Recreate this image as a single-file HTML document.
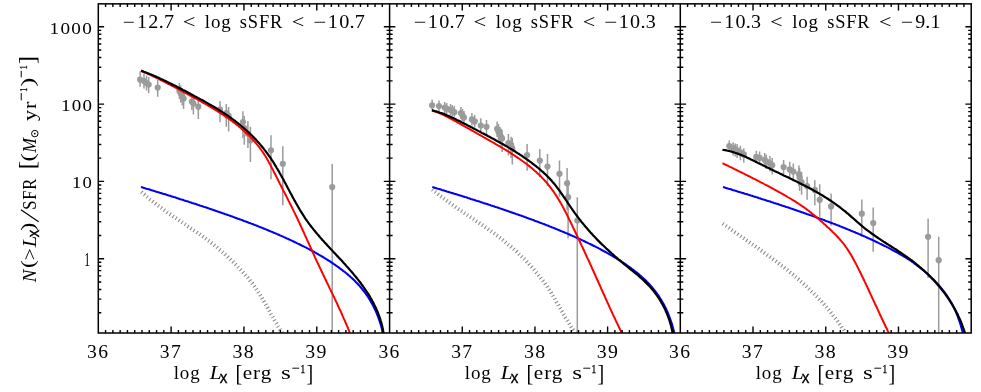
<!DOCTYPE html>
<html><head><meta charset="utf-8"><title>XLF</title>
<style>html,body{margin:0;padding:0;background:#fff}body{width:981px;height:392px;overflow:hidden;font-family:"Liberation Serif",serif}</style>
</head><body>
<svg width="981" height="392" viewBox="0 0 981 392" style="display:block;will-change:transform">
<rect width="981" height="392" fill="#fff"/>
<defs>
<clipPath id="c0"><rect x="98.3" y="3.85" width="291.3" height="329.15"/></clipPath>
<clipPath id="c1"><rect x="389.6" y="3.85" width="290.69999999999993" height="329.15"/></clipPath>
<clipPath id="c2"><rect x="680.3" y="3.85" width="290.9000000000001" height="329.15"/></clipPath>
</defs>
<g clip-path="url(#c0)">
<g stroke="#9b9b9b" stroke-width="1.5"><line x1="140.1" y1="71.5" x2="140.1" y2="86.8"/><line x1="144" y1="73.5" x2="144" y2="88.5"/><line x1="146.5" y1="75.5" x2="146.5" y2="90.5"/><line x1="148.7" y1="77" x2="148.7" y2="92.9"/><line x1="157.7" y1="79.9" x2="157.7" y2="96.8"/><line x1="179.4" y1="83" x2="179.4" y2="99"/><line x1="180.8" y1="85.5" x2="180.8" y2="102.5"/><line x1="182.2" y1="88" x2="182.2" y2="105.5"/><line x1="183.6" y1="90.5" x2="183.6" y2="109"/><line x1="191.9" y1="94" x2="191.9" y2="110"/><line x1="193.4" y1="96" x2="193.4" y2="114.4"/><line x1="198.3" y1="99" x2="198.3" y2="119"/><line x1="220" y1="100.9" x2="220" y2="122.3"/><line x1="226.3" y1="103.9" x2="226.3" y2="126.7"/><line x1="228.6" y1="107.1" x2="228.6" y2="131.5"/><line x1="242.9" y1="111.2" x2="242.9" y2="138"/><line x1="244.3" y1="116" x2="244.3" y2="144.7"/><line x1="247.9" y1="121" x2="247.9" y2="148"/><line x1="250.4" y1="126.8" x2="250.4" y2="162"/><line x1="271" y1="135.3" x2="271" y2="179.2"/><line x1="282.8" y1="146.2" x2="282.8" y2="205.2"/><line x1="332.2" y1="163.9" x2="332.2" y2="333"/></g>
<g fill="#9b9b9b"><circle cx="140.1" cy="79.6" r="3.1"/><circle cx="144" cy="81" r="3.1"/><circle cx="146.5" cy="83" r="3.1"/><circle cx="148.7" cy="84.5" r="3.1"/><circle cx="157.7" cy="87.6" r="3.1"/><circle cx="179.4" cy="91" r="3.1"/><circle cx="180.8" cy="93.5" r="3.1"/><circle cx="182.2" cy="96" r="3.1"/><circle cx="183.6" cy="98.6" r="3.1"/><circle cx="191.9" cy="101.7" r="3.1"/><circle cx="193.4" cy="103.6" r="3.1"/><circle cx="198.3" cy="106.7" r="3.1"/><circle cx="220" cy="109.7" r="3.1"/><circle cx="226.3" cy="113" r="3.1"/><circle cx="228.6" cy="115.5" r="3.1"/><circle cx="242.9" cy="122" r="3.1"/><circle cx="244.3" cy="128.2" r="3.1"/><circle cx="247.9" cy="133.8" r="3.1"/><circle cx="250.4" cy="140.3" r="3.1"/><circle cx="271" cy="150.3" r="3.1"/><circle cx="282.8" cy="163.8" r="3.1"/><circle cx="332.2" cy="187.1" r="3.1"/></g>
<path d="M141.3,192.1 L142.0,192.6 L142.6,193.2 L143.3,193.7 L143.9,194.3 L144.6,194.8 L145.2,195.4 L145.9,195.9 L146.5,196.4 L147.2,197.0 L147.8,197.5 L148.5,198.0 L149.2,198.6 L149.8,199.1 L150.5,199.6 L151.1,200.2 L151.8,200.7 L152.5,201.2 L153.1,201.7 L153.8,202.2 L154.5,202.8 L155.2,203.3 L155.8,203.8 L156.5,204.3 L157.2,204.8 L157.9,205.3 L158.5,205.8 L159.2,206.3 L159.9,206.8 L160.6,207.3 L161.3,207.8 L161.9,208.3 L162.6,208.8 L163.3,209.3 L164.0,209.8 L164.7,210.3 L165.4,210.8 L166.1,211.3 L166.8,211.8 L167.4,212.3 L168.1,212.7 L168.8,213.2 L169.5,213.7 L170.2,214.2 L170.9,214.7 L171.6,215.2 L172.3,215.6 L173.0,216.1 L173.7,216.6 L174.4,217.1 L175.1,217.6 L175.8,218.0 L176.5,218.5 L177.2,219.0 L177.9,219.5 L178.6,219.9 L179.3,220.4 L180.0,220.9 L180.7,221.4 L181.4,221.8 L182.1,222.3 L182.8,222.8 L183.5,223.3 L184.2,223.7 L184.9,224.2 L185.6,224.7 L186.3,225.2 L187.0,225.6 L187.7,226.1 L188.4,226.6 L189.1,227.0 L189.8,227.5 L190.5,228.0 L191.2,228.5 L192.0,228.9 L192.7,229.4 L193.4,229.9 L194.1,230.4 L194.8,230.8 L195.5,231.3 L196.2,231.8 L196.9,232.3 L197.6,232.8 L198.3,233.2 L199.0,233.7 L199.6,234.2 L200.3,234.7 L201.0,235.2 L201.7,235.7 L202.4,236.2 L203.1,236.7 L203.8,237.2 L204.5,237.7 L205.1,238.2 L205.8,238.7 L206.5,239.2 L207.2,239.7 L207.8,240.2 L208.5,240.7 L209.2,241.2 L209.8,241.7 L210.5,242.2 L211.2,242.7 L211.8,243.3 L212.5,243.8 L213.2,244.3 L213.8,244.8 L214.5,245.4 L215.1,245.9 L215.8,246.4 L216.4,247.0 L217.1,247.5 L217.7,248.1 L218.4,248.6 L219.0,249.1 L219.7,249.7 L220.3,250.2 L220.9,250.8 L221.6,251.3 L222.2,251.9 L222.9,252.5 L223.5,253.0 L224.1,253.6 L224.8,254.1 L225.4,254.7 L226.0,255.3 L226.6,255.9 L227.3,256.4 L227.9,257.0 L228.5,257.6 L229.1,258.2 L229.8,258.7 L230.4,259.3 L231.0,259.9 L231.6,260.5 L232.2,261.1 L232.8,261.7 L233.5,262.3 L234.1,262.9 L234.7,263.5 L235.3,264.1 L235.9,264.7 L236.5,265.3 L237.1,265.9 L237.7,266.5 L238.2,267.1 L238.8,267.7 L239.4,268.3 L240.0,269.0 L240.6,269.6 L241.2,270.2 L241.7,270.8 L242.3,271.4 L242.9,272.1 L243.4,272.7 L244.0,273.3 L244.6,274.0 L245.1,274.6 L245.7,275.3 L246.2,275.9 L246.8,276.5 L247.3,277.2 L247.9,277.8 L248.4,278.5 L248.9,279.2 L249.5,279.8 L250.0,280.5 L250.5,281.1 L251.0,281.8 L251.5,282.5 L252.1,283.1 L252.6,283.8 L253.1,284.5 L253.6,285.2 L254.1,285.8 L254.6,286.5 L255.0,287.2 L255.5,287.9 L256.0,288.6 L256.5,289.3 L257.0,290.0 L257.4,290.7 L257.9,291.4 L258.3,292.1 L258.8,292.8 L259.2,293.5 L259.7,294.2 L260.1,295.0 L260.6,295.7 L261.0,296.4 L261.5,297.1 L261.9,297.8 L262.3,298.6 L262.7,299.3 L263.2,300.0 L263.6,300.8 L264.0,301.5 L264.4,302.2 L264.8,303.0 L265.3,303.7 L265.7,304.4 L266.1,305.2 L266.5,305.9 L266.9,306.7 L267.3,307.4 L267.7,308.1 L268.1,308.9 L268.5,309.6 L269.0,310.4 L269.4,311.1 L269.8,311.8 L270.2,312.6 L270.6,313.3 L271.0,314.1 L271.4,314.8 L271.8,315.6 L272.2,316.3 L272.7,317.0 L273.1,317.8 L273.5,318.5 L273.9,319.2 L274.3,320.0 L274.7,320.7 L275.2,321.5 L275.6,322.2 L276.0,322.9 L276.5,323.6 L276.9,324.4 L277.3,325.1 L277.8,325.8 L278.2,326.6 L278.7,327.3 L279.1,328.0 L279.6,328.7 L280.0,329.4 L280.5,330.1 L281.0,330.9 L281.4,331.6 L281.9,332.3 L282.4,333.0" fill="none" stroke="#8a8a8a" stroke-width="3.9" stroke-dasharray="1.05 2.55"/>
<path d="M141.0,187.0 L142.0,187.3 L142.9,187.6 L143.9,187.9 L144.9,188.2 L145.8,188.5 L146.8,188.8 L147.7,189.0 L148.7,189.3 L149.7,189.6 L150.6,189.9 L151.6,190.2 L152.6,190.5 L153.5,190.8 L154.5,191.1 L155.4,191.4 L156.4,191.7 L157.4,192.0 L158.3,192.3 L159.3,192.6 L160.3,192.9 L161.2,193.1 L162.2,193.4 L163.1,193.7 L164.1,194.0 L165.1,194.3 L166.0,194.6 L167.0,194.9 L168.0,195.2 L168.9,195.5 L169.9,195.8 L170.8,196.1 L171.8,196.4 L172.8,196.7 L173.7,197.0 L174.7,197.3 L175.7,197.6 L176.6,197.9 L177.6,198.2 L178.5,198.5 L179.5,198.9 L180.5,199.2 L181.4,199.5 L182.4,199.8 L183.4,200.1 L184.3,200.4 L185.3,200.7 L186.2,201.0 L187.2,201.3 L188.2,201.6 L189.1,201.9 L190.1,202.2 L191.1,202.6 L192.0,202.9 L193.0,203.2 L193.9,203.5 L194.9,203.8 L195.9,204.1 L196.8,204.4 L197.8,204.8 L198.8,205.1 L199.7,205.4 L200.7,205.7 L201.6,206.0 L202.6,206.3 L203.6,206.7 L204.5,207.0 L205.5,207.3 L206.5,207.6 L207.4,207.9 L208.4,208.3 L209.3,208.6 L210.3,208.9 L211.3,209.2 L212.2,209.6 L213.2,209.9 L214.2,210.2 L215.1,210.6 L216.1,210.9 L217.0,211.2 L218.0,211.6 L219.0,211.9 L219.9,212.2 L220.9,212.6 L221.9,212.9 L222.8,213.2 L223.8,213.6 L224.7,213.9 L225.7,214.2 L226.7,214.6 L227.6,214.9 L228.6,215.3 L229.6,215.6 L230.5,215.9 L231.5,216.3 L232.4,216.6 L233.4,217.0 L234.4,217.3 L235.3,217.7 L236.3,218.0 L237.3,218.4 L238.2,218.7 L239.2,219.1 L240.1,219.4 L241.1,219.8 L242.1,220.1 L243.0,220.5 L244.0,220.9 L245.0,221.2 L245.9,221.6 L246.9,221.9 L247.8,222.3 L248.8,222.7 L249.8,223.0 L250.7,223.4 L251.7,223.8 L252.7,224.1 L253.6,224.5 L254.6,224.9 L255.5,225.3 L256.5,225.6 L257.5,226.0 L258.4,226.4 L259.4,226.8 L260.4,227.2 L261.3,227.5 L262.3,227.9 L263.2,228.3 L264.2,228.7 L265.2,229.1 L266.1,229.5 L267.1,229.9 L268.1,230.3 L269.0,230.7 L270.0,231.1 L270.9,231.5 L271.9,231.9 L272.9,232.3 L273.8,232.7 L274.8,233.1 L275.8,233.5 L276.7,233.9 L277.7,234.3 L278.6,234.7 L279.6,235.2 L280.6,235.6 L281.5,236.0 L282.5,236.4 L283.5,236.9 L284.4,237.3 L285.4,237.7 L286.3,238.2 L287.3,238.6 L288.3,239.0 L289.2,239.5 L290.2,239.9 L291.2,240.4 L292.1,240.8 L293.1,241.3 L294.0,241.7 L295.0,242.2 L296.0,242.6 L296.9,243.1 L297.9,243.6 L298.9,244.0 L299.8,244.5 L300.8,245.0 L301.7,245.5 L302.7,246.0 L303.7,246.4 L304.6,246.9 L305.6,247.4 L306.6,247.9 L307.5,248.4 L308.5,248.9 L309.4,249.4 L310.4,250.0 L311.4,250.5 L312.3,251.0 L313.3,251.5 L314.3,252.0 L315.2,252.6 L316.2,253.1 L317.1,253.7 L318.1,254.2 L319.1,254.8 L320.0,255.3 L321.0,255.9 L322.0,256.5 L322.9,257.0 L323.9,257.6 L324.8,258.2 L325.8,258.8 L326.8,259.4 L327.7,260.0 L328.7,260.6 L329.7,261.2 L330.6,261.9 L331.6,262.5 L332.5,263.1 L333.5,263.8 L334.5,264.4 L335.4,265.1 L336.4,265.8 L337.4,266.5 L338.3,267.2 L339.3,267.9 L340.2,268.6 L341.2,269.3 L342.2,270.0 L343.1,270.8 L344.1,271.5 L345.1,272.3 L346.0,273.0 L347.0,273.8 L347.9,274.6 L348.9,275.5 L349.9,276.3 L350.8,277.2 L351.8,278.0 L352.8,278.9 L353.7,279.8 L354.7,280.8 L355.6,281.8 L356.6,282.7 L357.6,283.8 L358.5,284.8 L359.5,285.9 L360.5,287.0 L361.4,288.1 L362.4,289.3 L363.3,290.5 L364.3,291.7 L365.3,293.0 L366.2,294.4 L367.2,295.7 L368.2,297.2 L369.1,298.7 L370.1,300.3 L371.0,301.9 L372.0,303.6 L373.0,305.4 L373.9,307.3 L374.9,309.3 L375.9,311.4 L376.8,313.6 L377.8,316.0 L378.7,318.6 L379.7,321.4 L380.7,324.4 L381.6,327.7 L382.6,331.3 L383.6,335.4" fill="none" stroke="#0000fa" stroke-width="2.1"/>
<path d="M141.0,70.9 L142.3,71.5 L143.6,72.0 L145.0,72.6 L146.3,73.2 L147.6,73.7 L148.9,74.3 L150.3,74.9 L151.6,75.5 L152.9,76.1 L154.2,76.8 L155.5,77.4 L156.8,78.0 L158.1,78.7 L159.5,79.3 L160.8,80.0 L162.1,80.6 L163.4,81.3 L164.7,81.9 L166.0,82.6 L167.3,83.3 L168.6,84.0 L169.9,84.6 L171.2,85.3 L172.5,86.0 L173.8,86.7 L175.1,87.4 L176.4,88.1 L177.7,88.8 L179.0,89.5 L180.3,90.2 L181.6,90.9 L182.9,91.6 L184.2,92.3 L185.5,93.0 L186.7,93.7 L188.0,94.4 L189.3,95.1 L190.6,95.8 L191.9,96.4 L193.1,97.1 L194.4,97.8 L195.7,98.5 L197.0,99.2 L198.2,99.9 L199.5,100.7 L200.8,101.4 L202.0,102.1 L203.3,102.8 L204.5,103.5 L205.8,104.2 L207.0,104.9 L208.3,105.7 L209.5,106.4 L210.8,107.1 L212.0,107.9 L213.3,108.6 L214.5,109.4 L215.8,110.2 L217.0,110.9 L218.2,111.7 L219.5,112.5 L220.7,113.3 L221.9,114.1 L223.2,114.9 L224.4,115.7 L225.6,116.6 L226.8,117.4 L228.0,118.2 L229.2,119.1 L230.4,119.9 L231.6,120.8 L232.8,121.7 L233.9,122.6 L235.1,123.5 L236.3,124.4 L237.4,125.3 L238.6,126.2 L239.7,127.2 L240.8,128.1 L241.9,129.1 L243.0,130.0 L244.1,131.0 L245.2,132.0 L246.3,133.0 L247.3,134.0 L248.4,135.0 L249.4,136.0 L250.5,137.1 L251.5,138.1 L252.5,139.2 L253.4,140.3 L254.4,141.4 L255.4,142.5 L256.3,143.6 L257.2,144.7 L258.2,145.8 L259.0,147.0 L259.9,148.1 L260.8,149.3 L261.6,150.5 L262.5,151.7 L263.3,152.9 L264.1,154.1 L264.8,155.3 L265.6,156.5 L266.3,157.8 L267.1,159.0 L267.8,160.3 L268.5,161.6 L269.2,162.9 L269.9,164.1 L270.6,165.4 L271.3,166.7 L271.9,168.0 L272.6,169.3 L273.3,170.6 L273.9,171.9 L274.6,173.2 L275.3,174.5 L275.9,175.8 L276.6,177.1 L277.2,178.4 L277.9,179.7 L278.5,181.0 L279.2,182.3 L279.8,183.6 L280.5,184.9 L281.2,186.2 L281.8,187.5 L282.5,188.8 L283.1,190.1 L283.8,191.4 L284.5,192.7 L285.2,194.0 L285.8,195.3 L286.5,196.6 L287.2,197.9 L287.8,199.2 L288.5,200.6 L289.2,201.9 L289.8,203.2 L290.5,204.5 L291.1,205.8 L291.8,207.1 L292.4,208.4 L293.1,209.7 L293.7,211.1 L294.4,212.4 L295.0,213.7 L295.6,215.0 L296.3,216.3 L296.9,217.6 L297.5,218.9 L298.1,220.3 L298.8,221.6 L299.4,222.9 L300.0,224.2 L300.6,225.5 L301.2,226.8 L301.8,228.2 L302.4,229.5 L303.0,230.8 L303.6,232.1 L304.2,233.4 L304.8,234.8 L305.4,236.1 L306.0,237.4 L306.6,238.7 L307.2,240.1 L307.8,241.4 L308.4,242.7 L309.0,244.0 L309.6,245.3 L310.2,246.7 L310.8,248.0 L311.4,249.3 L312.0,250.6 L312.6,252.0 L313.2,253.3 L313.8,254.6 L314.4,255.9 L315.0,257.3 L315.6,258.6 L316.2,259.9 L316.8,261.2 L317.5,262.6 L318.1,263.9 L318.7,265.2 L319.3,266.5 L320.0,267.9 L320.6,269.2 L321.2,270.5 L321.8,271.8 L322.5,273.2 L323.1,274.5 L323.8,275.8 L324.4,277.1 L325.0,278.5 L325.7,279.8 L326.3,281.1 L326.9,282.5 L327.6,283.8 L328.2,285.1 L328.9,286.4 L329.5,287.8 L330.1,289.1 L330.8,290.4 L331.4,291.7 L332.1,293.1 L332.7,294.4 L333.3,295.7 L334.0,297.0 L334.6,298.4 L335.2,299.7 L335.8,301.0 L336.5,302.4 L337.1,303.7 L337.7,305.0 L338.3,306.3 L338.9,307.7 L339.5,309.0 L340.2,310.3 L340.8,311.6 L341.4,313.0 L342.0,314.3 L342.5,315.6 L343.1,316.9 L343.7,318.3 L344.3,319.6 L344.9,320.9 L345.4,322.2 L346.0,323.5 L346.6,324.9 L347.1,326.2 L347.7,327.5 L348.2,328.8 L348.8,330.2 L349.3,331.5 L349.8,332.8" fill="none" stroke="#ff0000" stroke-width="2.0"/>
<path d="M141.0,70.6 L142.4,71.1 L143.9,71.7 L145.3,72.2 L146.7,72.8 L148.2,73.4 L149.6,73.9 L151.0,74.5 L152.4,75.1 L153.9,75.7 L155.3,76.3 L156.7,77.0 L158.1,77.6 L159.5,78.2 L160.9,78.9 L162.3,79.5 L163.7,80.2 L165.0,80.8 L166.4,81.5 L167.8,82.2 L169.2,82.9 L170.6,83.5 L172.0,84.2 L173.3,84.9 L174.7,85.6 L176.1,86.3 L177.4,87.0 L178.8,87.7 L180.2,88.4 L181.6,89.2 L182.9,89.9 L184.3,90.6 L185.7,91.3 L187.0,92.0 L188.4,92.8 L189.8,93.5 L191.1,94.2 L192.5,94.9 L193.9,95.7 L195.2,96.4 L196.6,97.1 L198.0,97.9 L199.3,98.6 L200.7,99.4 L202.1,100.1 L203.4,100.8 L204.8,101.6 L206.1,102.4 L207.5,103.1 L208.8,103.9 L210.1,104.7 L211.5,105.5 L212.8,106.2 L214.2,107.0 L215.5,107.8 L216.8,108.6 L218.1,109.4 L219.4,110.3 L220.7,111.1 L222.0,111.9 L223.3,112.8 L224.6,113.6 L225.9,114.5 L227.2,115.3 L228.5,116.2 L229.7,117.1 L231.0,118.0 L232.2,118.9 L233.5,119.8 L234.7,120.7 L235.9,121.7 L237.1,122.6 L238.4,123.6 L239.6,124.5 L240.7,125.5 L241.9,126.5 L243.1,127.5 L244.3,128.5 L245.4,129.5 L246.6,130.5 L247.7,131.6 L248.8,132.6 L250.0,133.7 L251.1,134.8 L252.2,135.8 L253.2,136.9 L254.3,138.0 L255.4,139.1 L256.4,140.3 L257.5,141.4 L258.5,142.5 L259.5,143.7 L260.5,144.9 L261.5,146.0 L262.5,147.2 L263.5,148.4 L264.4,149.6 L265.4,150.8 L266.3,152.1 L267.2,153.3 L268.1,154.5 L269.0,155.8 L269.9,157.0 L270.8,158.3 L271.6,159.6 L272.5,160.9 L273.3,162.2 L274.1,163.5 L274.9,164.8 L275.7,166.1 L276.5,167.5 L277.3,168.8 L278.1,170.1 L278.9,171.5 L279.6,172.8 L280.4,174.2 L281.1,175.5 L281.9,176.9 L282.6,178.2 L283.4,179.6 L284.1,181.0 L284.8,182.3 L285.6,183.7 L286.3,185.1 L287.0,186.4 L287.7,187.8 L288.5,189.2 L289.2,190.5 L289.9,191.9 L290.6,193.3 L291.4,194.6 L292.1,196.0 L292.8,197.4 L293.6,198.7 L294.3,200.1 L295.1,201.4 L295.8,202.8 L296.6,204.1 L297.4,205.5 L298.1,206.8 L298.9,208.1 L299.7,209.5 L300.5,210.8 L301.3,212.1 L302.1,213.4 L302.9,214.7 L303.7,216.0 L304.6,217.3 L305.4,218.6 L306.3,219.8 L307.2,221.1 L308.1,222.3 L309.0,223.6 L309.9,224.8 L310.8,226.0 L311.7,227.2 L312.7,228.4 L313.6,229.6 L314.6,230.8 L315.6,232.0 L316.6,233.2 L317.6,234.4 L318.6,235.5 L319.6,236.7 L320.6,237.9 L321.6,239.0 L322.6,240.2 L323.7,241.3 L324.7,242.5 L325.8,243.6 L326.8,244.7 L327.9,245.9 L328.9,247.0 L330.0,248.2 L331.0,249.3 L332.1,250.4 L333.1,251.6 L334.2,252.7 L335.3,253.8 L336.3,255.0 L337.4,256.1 L338.5,257.2 L339.5,258.4 L340.6,259.5 L341.6,260.6 L342.7,261.8 L343.7,262.9 L344.8,264.1 L345.8,265.2 L346.8,266.4 L347.9,267.6 L348.9,268.7 L349.9,269.9 L350.9,271.1 L352.0,272.2 L353.0,273.4 L353.9,274.6 L354.9,275.8 L355.9,277.0 L356.9,278.2 L357.8,279.4 L358.8,280.6 L359.7,281.8 L360.7,283.0 L361.6,284.3 L362.5,285.5 L363.4,286.8 L364.3,288.0 L365.1,289.3 L366.0,290.5 L366.8,291.8 L367.7,293.1 L368.5,294.4 L369.3,295.7 L370.1,297.0 L370.8,298.3 L371.6,299.6 L372.3,301.0 L373.1,302.3 L373.8,303.7 L374.4,305.0 L375.1,306.4 L375.8,307.8 L376.4,309.2 L377.0,310.6 L377.6,312.0 L378.2,313.4 L378.7,314.9 L379.3,316.3 L379.8,317.8 L380.3,319.3 L380.7,320.8 L381.2,322.3 L381.6,323.8 L382.0,325.3 L382.3,326.9 L382.7,328.4 L383.0,330.0 L383.3,331.6 L383.6,333.2" fill="none" stroke="#000" stroke-width="2.2"/>
</g>
<g clip-path="url(#c1)">
<g stroke="#9b9b9b" stroke-width="1.5"><line x1="432.1" y1="99.5" x2="432.1" y2="109.9"/><line x1="439" y1="100.4" x2="439" y2="111.4"/><line x1="444.7" y1="102" x2="444.7" y2="113"/><line x1="446.7" y1="103" x2="446.7" y2="114.2"/><line x1="450.5" y1="104" x2="450.5" y2="115.5"/><line x1="452.3" y1="105" x2="452.3" y2="116.5"/><line x1="454.3" y1="106" x2="454.3" y2="116.8"/><line x1="460.9" y1="107" x2="460.9" y2="119"/><line x1="462.4" y1="109" x2="462.4" y2="121"/><line x1="464" y1="111" x2="464" y2="122.2"/><line x1="471.9" y1="113" x2="471.9" y2="125.5"/><line x1="474.7" y1="115" x2="474.7" y2="127.5"/><line x1="480.8" y1="118.3" x2="480.8" y2="131.3"/><line x1="486.5" y1="119.9" x2="486.5" y2="134.4"/><line x1="497.1" y1="121.6" x2="497.1" y2="137"/><line x1="498.5" y1="124" x2="498.5" y2="140"/><line x1="500" y1="127" x2="500" y2="144"/><line x1="501.2" y1="129" x2="501.2" y2="148"/><line x1="502.1" y1="130" x2="502.1" y2="152"/><line x1="508.4" y1="134.1" x2="508.4" y2="155.5"/><line x1="511.1" y1="136.8" x2="511.1" y2="158"/><line x1="512.3" y1="138" x2="512.3" y2="164.5"/><line x1="527.1" y1="143.9" x2="527.1" y2="170.7"/><line x1="539.8" y1="148.9" x2="539.8" y2="177"/><line x1="547.5" y1="154" x2="547.5" y2="185.9"/><line x1="559.5" y1="160.4" x2="559.5" y2="196.8"/><line x1="567.1" y1="168" x2="567.1" y2="210"/><line x1="568.1" y1="180" x2="568.1" y2="238.3"/><line x1="577.3" y1="197.2" x2="577.3" y2="333"/></g>
<g fill="#9b9b9b"><circle cx="432.1" cy="105.3" r="3.1"/><circle cx="439" cy="106.1" r="3.1"/><circle cx="444.7" cy="107.6" r="3.1"/><circle cx="446.7" cy="108.7" r="3.1"/><circle cx="450.5" cy="109.9" r="3.1"/><circle cx="452.3" cy="111.1" r="3.1"/><circle cx="454.3" cy="112.2" r="3.1"/><circle cx="460.9" cy="113" r="3.1"/><circle cx="462.4" cy="115.3" r="3.1"/><circle cx="464" cy="117.6" r="3.1"/><circle cx="471.9" cy="119.4" r="3.1"/><circle cx="474.7" cy="121.4" r="3.1"/><circle cx="480.8" cy="125.5" r="3.1"/><circle cx="486.5" cy="126.8" r="3.1"/><circle cx="497.1" cy="128.8" r="3.1"/><circle cx="498.5" cy="131.5" r="3.1"/><circle cx="500" cy="134.5" r="3.1"/><circle cx="501.2" cy="137" r="3.1"/><circle cx="502.1" cy="138.6" r="3.1"/><circle cx="508.4" cy="143" r="3.1"/><circle cx="511.1" cy="144.8" r="3.1"/><circle cx="512.3" cy="148.4" r="3.1"/><circle cx="527.1" cy="155" r="3.1"/><circle cx="539.8" cy="160.5" r="3.1"/><circle cx="547.5" cy="166.5" r="3.1"/><circle cx="559.5" cy="173.8" r="3.1"/><circle cx="567.1" cy="183.3" r="3.1"/><circle cx="568.1" cy="197.2" r="3.1"/><circle cx="577.3" cy="220.6" r="3.1"/></g>
<path d="M432.3,189.4 L433.0,190.0 L433.6,190.5 L434.3,191.1 L435.0,191.6 L435.7,192.2 L436.3,192.7 L437.0,193.3 L437.7,193.8 L438.4,194.4 L439.0,194.9 L439.7,195.4 L440.4,196.0 L441.1,196.5 L441.8,197.0 L442.5,197.5 L443.1,198.1 L443.8,198.6 L444.5,199.1 L445.2,199.6 L445.9,200.1 L446.6,200.6 L447.3,201.1 L448.0,201.6 L448.7,202.1 L449.4,202.6 L450.1,203.2 L450.8,203.7 L451.5,204.1 L452.2,204.6 L452.9,205.1 L453.6,205.6 L454.3,206.1 L455.0,206.6 L455.7,207.1 L456.4,207.6 L457.1,208.1 L457.8,208.6 L458.5,209.1 L459.3,209.5 L460.0,210.0 L460.7,210.5 L461.4,211.0 L462.1,211.5 L462.8,212.0 L463.5,212.4 L464.2,212.9 L464.9,213.4 L465.7,213.9 L466.4,214.4 L467.1,214.8 L467.8,215.3 L468.5,215.8 L469.2,216.3 L469.9,216.8 L470.6,217.2 L471.4,217.7 L472.1,218.2 L472.8,218.7 L473.5,219.1 L474.2,219.6 L474.9,220.1 L475.6,220.6 L476.3,221.1 L477.1,221.5 L477.8,222.0 L478.5,222.5 L479.2,223.0 L479.9,223.5 L480.6,223.9 L481.3,224.4 L482.0,224.9 L482.7,225.4 L483.4,225.9 L484.2,226.4 L484.9,226.9 L485.6,227.4 L486.3,227.8 L487.0,228.3 L487.7,228.8 L488.4,229.3 L489.1,229.8 L489.8,230.3 L490.5,230.8 L491.2,231.3 L491.9,231.8 L492.6,232.3 L493.3,232.8 L494.0,233.3 L494.7,233.8 L495.4,234.4 L496.0,234.9 L496.7,235.4 L497.4,235.9 L498.1,236.4 L498.8,236.9 L499.5,237.5 L500.2,238.0 L500.8,238.5 L501.5,239.1 L502.2,239.6 L502.9,240.1 L503.6,240.7 L504.2,241.2 L504.9,241.7 L505.6,242.3 L506.2,242.8 L506.9,243.4 L507.6,243.9 L508.2,244.5 L508.9,245.0 L509.6,245.6 L510.2,246.1 L510.9,246.7 L511.5,247.3 L512.2,247.8 L512.8,248.4 L513.5,249.0 L514.1,249.5 L514.8,250.1 L515.4,250.7 L516.1,251.3 L516.7,251.8 L517.3,252.4 L518.0,253.0 L518.6,253.6 L519.2,254.2 L519.9,254.8 L520.5,255.4 L521.1,256.0 L521.7,256.6 L522.3,257.2 L522.9,257.8 L523.6,258.4 L524.2,259.0 L524.8,259.6 L525.4,260.2 L526.0,260.8 L526.6,261.5 L527.2,262.1 L527.8,262.7 L528.4,263.3 L528.9,264.0 L529.5,264.6 L530.1,265.2 L530.7,265.9 L531.3,266.5 L531.8,267.1 L532.4,267.8 L533.0,268.4 L533.6,269.1 L534.1,269.7 L534.7,270.4 L535.2,271.0 L535.8,271.7 L536.3,272.4 L536.9,273.0 L537.4,273.7 L538.0,274.3 L538.5,275.0 L539.1,275.7 L539.6,276.4 L540.1,277.0 L540.6,277.7 L541.2,278.4 L541.7,279.1 L542.2,279.8 L542.7,280.5 L543.2,281.1 L543.7,281.8 L544.2,282.5 L544.7,283.2 L545.2,283.9 L545.7,284.6 L546.2,285.3 L546.7,286.0 L547.2,286.7 L547.7,287.5 L548.1,288.2 L548.6,288.9 L549.1,289.6 L549.5,290.3 L550.0,291.1 L550.5,291.8 L550.9,292.5 L551.4,293.2 L551.8,294.0 L552.3,294.7 L552.7,295.4 L553.2,296.2 L553.6,296.9 L554.0,297.6 L554.5,298.4 L554.9,299.1 L555.3,299.9 L555.8,300.6 L556.2,301.3 L556.6,302.1 L557.1,302.8 L557.5,303.6 L557.9,304.3 L558.4,305.1 L558.8,305.8 L559.2,306.6 L559.6,307.3 L560.1,308.1 L560.5,308.8 L560.9,309.6 L561.3,310.3 L561.8,311.1 L562.2,311.8 L562.6,312.5 L563.0,313.3 L563.5,314.0 L563.9,314.8 L564.3,315.5 L564.8,316.3 L565.2,317.0 L565.6,317.8 L566.1,318.5 L566.5,319.3 L567.0,320.0 L567.4,320.7 L567.8,321.5 L568.3,322.2 L568.7,322.9 L569.2,323.7 L569.6,324.4 L570.1,325.1 L570.6,325.9 L571.0,326.6 L571.5,327.3 L572.0,328.0 L572.4,328.8 L572.9,329.5 L573.4,330.2 L573.9,330.9 L574.4,331.6 L574.9,332.3 L575.4,333.1" fill="none" stroke="#8a8a8a" stroke-width="3.9" stroke-dasharray="1.05 2.55"/>
<path d="M432.3,187.0 L433.3,187.3 L434.2,187.6 L435.2,187.9 L436.2,188.2 L437.1,188.5 L438.1,188.8 L439.0,189.0 L440.0,189.3 L441.0,189.6 L441.9,189.9 L442.9,190.2 L443.9,190.5 L444.8,190.8 L445.8,191.1 L446.7,191.4 L447.7,191.7 L448.7,192.0 L449.6,192.3 L450.6,192.6 L451.6,192.9 L452.5,193.1 L453.5,193.4 L454.4,193.7 L455.4,194.0 L456.4,194.3 L457.3,194.6 L458.3,194.9 L459.3,195.2 L460.2,195.5 L461.2,195.8 L462.1,196.1 L463.1,196.4 L464.1,196.7 L465.0,197.0 L466.0,197.3 L467.0,197.6 L467.9,197.9 L468.9,198.2 L469.8,198.5 L470.8,198.9 L471.8,199.2 L472.7,199.5 L473.7,199.8 L474.7,200.1 L475.6,200.4 L476.6,200.7 L477.5,201.0 L478.5,201.3 L479.5,201.6 L480.4,201.9 L481.4,202.2 L482.4,202.6 L483.3,202.9 L484.3,203.2 L485.2,203.5 L486.2,203.8 L487.2,204.1 L488.1,204.4 L489.1,204.8 L490.1,205.1 L491.0,205.4 L492.0,205.7 L492.9,206.0 L493.9,206.3 L494.9,206.7 L495.8,207.0 L496.8,207.3 L497.8,207.6 L498.7,207.9 L499.7,208.3 L500.6,208.6 L501.6,208.9 L502.6,209.2 L503.5,209.6 L504.5,209.9 L505.5,210.2 L506.4,210.6 L507.4,210.9 L508.3,211.2 L509.3,211.6 L510.3,211.9 L511.2,212.2 L512.2,212.6 L513.2,212.9 L514.1,213.2 L515.1,213.6 L516.0,213.9 L517.0,214.2 L518.0,214.6 L518.9,214.9 L519.9,215.3 L520.9,215.6 L521.8,215.9 L522.8,216.3 L523.7,216.6 L524.7,217.0 L525.7,217.3 L526.6,217.7 L527.6,218.0 L528.6,218.4 L529.5,218.7 L530.5,219.1 L531.4,219.4 L532.4,219.8 L533.4,220.1 L534.3,220.5 L535.3,220.9 L536.3,221.2 L537.2,221.6 L538.2,221.9 L539.1,222.3 L540.1,222.7 L541.1,223.0 L542.0,223.4 L543.0,223.8 L544.0,224.1 L544.9,224.5 L545.9,224.9 L546.8,225.3 L547.8,225.6 L548.8,226.0 L549.7,226.4 L550.7,226.8 L551.7,227.2 L552.6,227.5 L553.6,227.9 L554.5,228.3 L555.5,228.7 L556.5,229.1 L557.4,229.5 L558.4,229.9 L559.4,230.3 L560.3,230.7 L561.3,231.1 L562.2,231.5 L563.2,231.9 L564.2,232.3 L565.1,232.7 L566.1,233.1 L567.1,233.5 L568.0,233.9 L569.0,234.3 L569.9,234.7 L570.9,235.2 L571.9,235.6 L572.8,236.0 L573.8,236.4 L574.8,236.9 L575.7,237.3 L576.7,237.7 L577.6,238.2 L578.6,238.6 L579.6,239.0 L580.5,239.5 L581.5,239.9 L582.5,240.4 L583.4,240.8 L584.4,241.3 L585.3,241.7 L586.3,242.2 L587.3,242.6 L588.2,243.1 L589.2,243.6 L590.2,244.0 L591.1,244.5 L592.1,245.0 L593.0,245.5 L594.0,246.0 L595.0,246.4 L595.9,246.9 L596.9,247.4 L597.9,247.9 L598.8,248.4 L599.8,248.9 L600.7,249.4 L601.7,250.0 L602.7,250.5 L603.6,251.0 L604.6,251.5 L605.6,252.0 L606.5,252.6 L607.5,253.1 L608.4,253.7 L609.4,254.2 L610.4,254.8 L611.3,255.3 L612.3,255.9 L613.3,256.5 L614.2,257.0 L615.2,257.6 L616.1,258.2 L617.1,258.8 L618.1,259.4 L619.0,260.0 L620.0,260.6 L621.0,261.2 L621.9,261.9 L622.9,262.5 L623.8,263.1 L624.8,263.8 L625.8,264.4 L626.7,265.1 L627.7,265.8 L628.7,266.5 L629.6,267.2 L630.6,267.9 L631.5,268.6 L632.5,269.3 L633.5,270.0 L634.4,270.8 L635.4,271.5 L636.4,272.3 L637.3,273.0 L638.3,273.8 L639.2,274.6 L640.2,275.5 L641.2,276.3 L642.1,277.2 L643.1,278.0 L644.1,278.9 L645.0,279.8 L646.0,280.8 L646.9,281.8 L647.9,282.7 L648.9,283.8 L649.8,284.8 L650.8,285.9 L651.8,287.0 L652.7,288.1 L653.7,289.3 L654.6,290.5 L655.6,291.7 L656.6,293.0 L657.5,294.4 L658.5,295.7 L659.5,297.2 L660.4,298.7 L661.4,300.3 L662.3,301.9 L663.3,303.6 L664.3,305.4 L665.2,307.3 L666.2,309.3 L667.2,311.4 L668.1,313.6 L669.1,316.0 L670.0,318.6 L671.0,321.4 L672.0,324.4 L672.9,327.7 L673.9,331.3 L674.9,335.4" fill="none" stroke="#0000fa" stroke-width="2.1"/>
<path d="M432.0,110.5 L433.2,110.9 L434.4,111.3 L435.6,111.7 L436.7,112.1 L437.9,112.6 L439.1,113.1 L440.3,113.6 L441.4,114.1 L442.6,114.6 L443.7,115.1 L444.9,115.7 L446.0,116.3 L447.2,116.8 L448.3,117.4 L449.5,118.0 L450.6,118.6 L451.7,119.2 L452.9,119.8 L454.0,120.4 L455.1,121.0 L456.2,121.7 L457.4,122.3 L458.5,122.9 L459.6,123.5 L460.7,124.2 L461.8,124.8 L462.9,125.4 L464.0,126.0 L465.1,126.7 L466.2,127.3 L467.3,127.9 L468.5,128.5 L469.6,129.2 L470.7,129.8 L471.8,130.4 L472.9,131.0 L474.0,131.7 L475.1,132.3 L476.2,132.9 L477.3,133.5 L478.4,134.2 L479.5,134.8 L480.6,135.4 L481.7,136.0 L482.8,136.7 L483.9,137.3 L485.0,137.9 L486.1,138.5 L487.2,139.2 L488.3,139.8 L489.4,140.4 L490.5,141.1 L491.6,141.7 L492.7,142.3 L493.8,143.0 L494.9,143.6 L496.0,144.3 L497.1,144.9 L498.3,145.6 L499.4,146.2 L500.5,146.9 L501.6,147.5 L502.7,148.2 L503.8,148.8 L504.9,149.5 L506.0,150.2 L507.1,150.8 L508.2,151.5 L509.3,152.2 L510.4,152.9 L511.4,153.6 L512.5,154.3 L513.6,155.0 L514.7,155.7 L515.7,156.4 L516.8,157.1 L517.9,157.8 L518.9,158.5 L520.0,159.3 L521.0,160.0 L522.1,160.7 L523.1,161.5 L524.1,162.2 L525.2,163.0 L526.2,163.8 L527.2,164.5 L528.2,165.3 L529.2,166.1 L530.2,166.9 L531.2,167.7 L532.2,168.5 L533.1,169.3 L534.1,170.2 L535.0,171.0 L536.0,171.8 L536.9,172.7 L537.8,173.5 L538.8,174.4 L539.7,175.3 L540.6,176.2 L541.5,177.1 L542.3,178.0 L543.2,178.9 L544.1,179.8 L544.9,180.8 L545.8,181.7 L546.6,182.6 L547.4,183.6 L548.2,184.6 L549.0,185.6 L549.8,186.6 L550.6,187.6 L551.3,188.6 L552.1,189.6 L552.8,190.6 L553.6,191.7 L554.3,192.7 L555.0,193.8 L555.7,194.9 L556.4,195.9 L557.1,197.0 L557.8,198.1 L558.4,199.2 L559.1,200.3 L559.7,201.4 L560.4,202.5 L561.0,203.6 L561.7,204.7 L562.3,205.9 L562.9,207.0 L563.5,208.1 L564.1,209.3 L564.7,210.4 L565.3,211.5 L565.9,212.7 L566.5,213.8 L567.1,215.0 L567.6,216.1 L568.2,217.3 L568.8,218.5 L569.3,219.6 L569.9,220.8 L570.4,221.9 L571.0,223.1 L571.6,224.2 L572.1,225.4 L572.7,226.6 L573.2,227.7 L573.8,228.9 L574.3,230.0 L574.9,231.2 L575.4,232.3 L576.0,233.5 L576.5,234.6 L577.0,235.8 L577.6,236.9 L578.1,238.1 L578.7,239.2 L579.2,240.4 L579.8,241.5 L580.3,242.7 L580.8,243.8 L581.4,245.0 L581.9,246.1 L582.5,247.3 L583.0,248.4 L583.5,249.6 L584.1,250.7 L584.6,251.9 L585.1,253.0 L585.7,254.2 L586.2,255.3 L586.7,256.5 L587.3,257.6 L587.8,258.8 L588.3,259.9 L588.8,261.1 L589.4,262.2 L589.9,263.4 L590.4,264.5 L591.0,265.7 L591.5,266.9 L592.0,268.0 L592.5,269.2 L593.1,270.3 L593.6,271.5 L594.1,272.7 L594.6,273.8 L595.2,275.0 L595.7,276.2 L596.2,277.3 L596.7,278.5 L597.2,279.7 L597.8,280.8 L598.3,282.0 L598.8,283.2 L599.3,284.3 L599.9,285.5 L600.4,286.7 L600.9,287.8 L601.4,289.0 L602.0,290.2 L602.5,291.3 L603.0,292.5 L603.5,293.7 L604.0,294.8 L604.6,296.0 L605.1,297.2 L605.6,298.3 L606.1,299.5 L606.7,300.7 L607.2,301.8 L607.7,303.0 L608.3,304.2 L608.8,305.3 L609.3,306.5 L609.8,307.6 L610.4,308.8 L610.9,310.0 L611.4,311.1 L612.0,312.3 L612.5,313.4 L613.0,314.6 L613.6,315.8 L614.1,316.9 L614.7,318.1 L615.2,319.2 L615.7,320.4 L616.3,321.5 L616.8,322.7 L617.4,323.8 L617.9,325.0 L618.5,326.1 L619.0,327.3 L619.6,328.4 L620.1,329.6 L620.7,330.7 L621.2,331.9 L621.8,333.0" fill="none" stroke="#ff0000" stroke-width="2.0"/>
<path d="M431.9,110.2 L433.3,110.6 L434.7,111.0 L436.0,111.4 L437.4,111.8 L438.7,112.2 L440.0,112.7 L441.4,113.1 L442.7,113.6 L444.0,114.1 L445.3,114.6 L446.6,115.2 L447.9,115.7 L449.2,116.3 L450.5,116.9 L451.8,117.4 L453.1,118.0 L454.3,118.6 L455.6,119.2 L456.9,119.9 L458.2,120.5 L459.4,121.1 L460.7,121.7 L461.9,122.4 L463.2,123.0 L464.5,123.7 L465.7,124.3 L467.0,125.0 L468.2,125.7 L469.5,126.3 L470.7,127.0 L472.0,127.6 L473.2,128.3 L474.5,128.9 L475.7,129.6 L477.0,130.2 L478.2,130.9 L479.5,131.6 L480.8,132.2 L482.0,132.9 L483.3,133.5 L484.5,134.2 L485.8,134.8 L487.0,135.5 L488.2,136.2 L489.5,136.8 L490.7,137.5 L492.0,138.2 L493.2,138.8 L494.5,139.5 L495.7,140.2 L496.9,140.9 L498.2,141.5 L499.4,142.2 L500.6,142.9 L501.9,143.6 L503.1,144.3 L504.3,145.0 L505.5,145.7 L506.7,146.4 L507.9,147.1 L509.2,147.9 L510.4,148.6 L511.6,149.3 L512.8,150.0 L514.0,150.8 L515.2,151.5 L516.4,152.3 L517.5,153.1 L518.7,153.8 L519.9,154.6 L521.1,155.4 L522.3,156.2 L523.4,157.0 L524.6,157.8 L525.8,158.6 L526.9,159.4 L528.1,160.2 L529.2,161.0 L530.3,161.9 L531.5,162.7 L532.6,163.6 L533.7,164.5 L534.9,165.3 L536.0,166.2 L537.1,167.1 L538.2,168.0 L539.3,168.9 L540.4,169.8 L541.4,170.7 L542.5,171.7 L543.6,172.6 L544.6,173.6 L545.6,174.5 L546.6,175.5 L547.6,176.5 L548.6,177.5 L549.6,178.5 L550.5,179.6 L551.5,180.6 L552.4,181.7 L553.3,182.7 L554.2,183.8 L555.1,184.9 L556.0,186.0 L556.8,187.1 L557.7,188.3 L558.5,189.4 L559.3,190.5 L560.2,191.7 L561.0,192.8 L561.8,194.0 L562.6,195.1 L563.4,196.3 L564.2,197.5 L565.0,198.6 L565.8,199.8 L566.6,201.0 L567.3,202.1 L568.1,203.3 L568.9,204.5 L569.7,205.7 L570.5,206.8 L571.3,208.0 L572.1,209.2 L572.9,210.3 L573.7,211.5 L574.5,212.6 L575.4,213.8 L576.2,214.9 L577.0,216.0 L577.9,217.2 L578.7,218.3 L579.6,219.4 L580.5,220.5 L581.3,221.6 L582.2,222.7 L583.1,223.8 L584.0,224.9 L584.9,226.0 L585.8,227.1 L586.7,228.1 L587.7,229.2 L588.6,230.3 L589.5,231.3 L590.5,232.4 L591.4,233.4 L592.4,234.4 L593.3,235.5 L594.3,236.5 L595.3,237.5 L596.2,238.6 L597.2,239.6 L598.2,240.6 L599.2,241.6 L600.2,242.6 L601.2,243.6 L602.2,244.6 L603.2,245.5 L604.3,246.5 L605.3,247.5 L606.3,248.5 L607.3,249.4 L608.4,250.4 L609.4,251.4 L610.5,252.3 L611.5,253.3 L612.6,254.2 L613.6,255.1 L614.7,256.1 L615.8,257.0 L616.8,257.9 L617.9,258.9 L619.0,259.8 L620.1,260.7 L621.2,261.6 L622.2,262.5 L623.3,263.4 L624.4,264.3 L625.5,265.2 L626.6,266.1 L627.7,267.0 L628.8,267.9 L629.9,268.8 L631.0,269.7 L632.1,270.5 L633.2,271.4 L634.3,272.3 L635.4,273.2 L636.5,274.1 L637.6,275.0 L638.7,275.9 L639.7,276.9 L640.8,277.8 L641.8,278.7 L642.9,279.7 L643.9,280.6 L644.9,281.6 L645.9,282.6 L646.9,283.6 L647.9,284.6 L648.9,285.6 L649.8,286.6 L650.8,287.7 L651.7,288.7 L652.6,289.8 L653.5,290.9 L654.4,292.0 L655.2,293.1 L656.1,294.3 L656.9,295.4 L657.7,296.6 L658.5,297.7 L659.2,298.9 L660.0,300.1 L660.7,301.3 L661.4,302.6 L662.1,303.8 L662.8,305.0 L663.5,306.3 L664.1,307.5 L664.8,308.8 L665.4,310.1 L665.9,311.4 L666.5,312.7 L667.1,314.0 L667.6,315.3 L668.1,316.6 L668.6,318.0 L669.1,319.3 L669.5,320.7 L669.9,322.0 L670.3,323.4 L670.7,324.7 L671.1,326.1 L671.4,327.5 L671.8,328.9 L672.1,330.2 L672.3,331.6 L672.6,333.0" fill="none" stroke="#000" stroke-width="2.2"/>
</g>
<g clip-path="url(#c2)">
<g stroke="#9b9b9b" stroke-width="1.5"><line x1="729.3" y1="140.4" x2="729.3" y2="151.6"/><line x1="733.1" y1="142.2" x2="733.1" y2="155.5"/><line x1="735.2" y1="143.5" x2="735.2" y2="156.5"/><line x1="737.1" y1="144" x2="737.1" y2="158"/><line x1="740.4" y1="145.8" x2="740.4" y2="160.3"/><line x1="743.8" y1="148.3" x2="743.8" y2="162.7"/><line x1="756.3" y1="150.7" x2="756.3" y2="163"/><line x1="759.6" y1="151.5" x2="759.6" y2="164.5"/><line x1="764.7" y1="153" x2="764.7" y2="167"/><line x1="766.2" y1="154.5" x2="766.2" y2="169"/><line x1="769.9" y1="156" x2="769.9" y2="171.5"/><line x1="772.2" y1="158" x2="772.2" y2="174.4"/><line x1="783.6" y1="159.9" x2="783.6" y2="174"/><line x1="789.7" y1="161.7" x2="789.7" y2="178.3"/><line x1="793.3" y1="163.5" x2="793.3" y2="180.8"/><line x1="798.9" y1="165.5" x2="798.9" y2="186"/><line x1="799.6" y1="168" x2="799.6" y2="191"/><line x1="801.6" y1="171.9" x2="801.6" y2="194.8"/><line x1="807.1" y1="176.8" x2="807.1" y2="199.8"/><line x1="814.8" y1="180.2" x2="814.8" y2="205.2"/><line x1="819.7" y1="184.2" x2="819.7" y2="216.7"/><line x1="831.1" y1="193.5" x2="831.1" y2="225.7"/><line x1="861.8" y1="199.5" x2="861.8" y2="236.6"/><line x1="873.2" y1="207.6" x2="873.2" y2="251.8"/><line x1="928.1" y1="218.6" x2="928.1" y2="278"/><line x1="938.7" y1="236.8" x2="938.7" y2="333"/></g>
<g fill="#9b9b9b"><circle cx="729.3" cy="146" r="3.1"/><circle cx="733.1" cy="148.2" r="3.1"/><circle cx="735.2" cy="149.3" r="3.1"/><circle cx="737.1" cy="150.4" r="3.1"/><circle cx="740.4" cy="152.4" r="3.1"/><circle cx="743.8" cy="154.4" r="3.1"/><circle cx="756.3" cy="156.9" r="3.1"/><circle cx="759.6" cy="157.9" r="3.1"/><circle cx="764.7" cy="159.9" r="3.1"/><circle cx="766.2" cy="161.4" r="3.1"/><circle cx="769.9" cy="163.4" r="3.1"/><circle cx="772.2" cy="165.2" r="3.1"/><circle cx="783.6" cy="167.1" r="3.1"/><circle cx="789.7" cy="169.4" r="3.1"/><circle cx="793.3" cy="171.6" r="3.1"/><circle cx="798.9" cy="174.1" r="3.1"/><circle cx="799.6" cy="177.6" r="3.1"/><circle cx="801.6" cy="182" r="3.1"/><circle cx="807.1" cy="186.2" r="3.1"/><circle cx="814.8" cy="189.9" r="3.1"/><circle cx="819.7" cy="199.8" r="3.1"/><circle cx="831.1" cy="206.4" r="3.1"/><circle cx="861.8" cy="213.7" r="3.1"/><circle cx="873.2" cy="223.1" r="3.1"/><circle cx="928.1" cy="236.8" r="3.1"/><circle cx="938.7" cy="260.2" r="3.1"/></g>
<path d="M722.8,223.6 L723.3,224.0 L723.9,224.4 L724.5,224.8 L725.0,225.2 L725.6,225.7 L726.2,226.1 L726.7,226.5 L727.3,226.9 L727.8,227.3 L728.4,227.7 L729.0,228.1 L729.5,228.5 L730.1,228.9 L730.7,229.3 L731.2,229.7 L731.8,230.1 L732.4,230.5 L732.9,230.9 L733.5,231.3 L734.1,231.7 L734.7,232.1 L735.2,232.5 L735.8,232.9 L736.4,233.3 L736.9,233.7 L737.5,234.1 L738.1,234.5 L738.6,234.9 L739.2,235.3 L739.8,235.6 L740.3,236.0 L740.9,236.4 L741.5,236.8 L742.1,237.2 L742.6,237.6 L743.2,238.0 L743.8,238.4 L744.3,238.8 L744.9,239.2 L745.5,239.6 L746.0,240.0 L746.6,240.4 L747.2,240.8 L747.8,241.2 L748.3,241.6 L748.9,242.0 L749.5,242.4 L750.0,242.8 L750.6,243.2 L751.2,243.6 L751.7,244.0 L752.3,244.4 L752.9,244.8 L753.5,245.2 L754.0,245.6 L754.6,246.0 L755.2,246.3 L755.7,246.7 L756.3,247.1 L756.9,247.5 L757.4,247.9 L758.0,248.3 L758.6,248.7 L759.1,249.1 L759.7,249.5 L760.3,249.9 L760.8,250.3 L761.4,250.7 L762.0,251.1 L762.5,251.5 L763.1,251.9 L763.7,252.3 L764.2,252.7 L764.8,253.2 L765.3,253.6 L765.9,254.0 L766.5,254.4 L767.0,254.8 L767.6,255.2 L768.2,255.6 L768.7,256.0 L769.3,256.4 L769.8,256.8 L770.4,257.2 L771.0,257.6 L771.5,258.0 L772.1,258.4 L772.6,258.9 L773.2,259.3 L773.8,259.7 L774.3,260.1 L774.9,260.5 L775.4,260.9 L776.0,261.3 L776.5,261.7 L777.1,262.2 L777.6,262.6 L778.2,263.0 L778.7,263.4 L779.3,263.8 L779.8,264.3 L780.4,264.7 L781.0,265.1 L781.5,265.5 L782.0,265.9 L782.6,266.4 L783.1,266.8 L783.7,267.2 L784.2,267.6 L784.8,268.1 L785.3,268.5 L785.9,268.9 L786.4,269.4 L787.0,269.8 L787.5,270.2 L788.0,270.7 L788.6,271.1 L789.1,271.5 L789.7,272.0 L790.2,272.4 L790.7,272.8 L791.3,273.3 L791.8,273.7 L792.3,274.2 L792.9,274.6 L793.4,275.1 L793.9,275.5 L794.5,276.0 L795.0,276.4 L795.5,276.8 L796.1,277.3 L796.6,277.7 L797.1,278.2 L797.6,278.7 L798.2,279.1 L798.7,279.6 L799.2,280.0 L799.7,280.5 L800.2,280.9 L800.8,281.4 L801.3,281.9 L801.8,282.3 L802.3,282.8 L802.8,283.2 L803.3,283.7 L803.9,284.2 L804.4,284.6 L804.9,285.1 L805.4,285.6 L805.9,286.0 L806.4,286.5 L806.9,287.0 L807.4,287.5 L807.9,287.9 L808.4,288.4 L808.9,288.9 L809.4,289.4 L809.9,289.9 L810.4,290.3 L810.9,290.8 L811.4,291.3 L811.9,291.8 L812.4,292.3 L812.9,292.8 L813.4,293.2 L813.9,293.7 L814.4,294.2 L814.9,294.7 L815.4,295.2 L815.8,295.7 L816.3,296.2 L816.8,296.7 L817.3,297.2 L817.8,297.7 L818.3,298.2 L818.7,298.7 L819.2,299.2 L819.7,299.7 L820.2,300.2 L820.6,300.7 L821.1,301.2 L821.6,301.7 L822.0,302.3 L822.5,302.8 L823.0,303.3 L823.4,303.8 L823.9,304.3 L824.3,304.8 L824.8,305.4 L825.3,305.9 L825.7,306.4 L826.2,306.9 L826.6,307.4 L827.1,308.0 L827.5,308.5 L828.0,309.0 L828.4,309.6 L828.9,310.1 L829.3,310.6 L829.8,311.2 L830.2,311.7 L830.6,312.2 L831.1,312.8 L831.5,313.3 L831.9,313.9 L832.4,314.4 L832.8,314.9 L833.2,315.5 L833.7,316.0 L834.1,316.6 L834.5,317.1 L834.9,317.7 L835.3,318.2 L835.8,318.8 L836.2,319.3 L836.6,319.9 L837.0,320.5 L837.4,321.0 L837.8,321.6 L838.2,322.2 L838.6,322.7 L839.1,323.3 L839.5,323.9 L839.9,324.4 L840.3,325.0 L840.7,325.6 L841.0,326.1 L841.4,326.7 L841.8,327.3 L842.2,327.9 L842.6,328.5 L843.0,329.0 L843.4,329.6 L843.8,330.2 L844.1,330.8 L844.5,331.4 L844.9,332.0 L845.3,332.6 L845.6,333.2" fill="none" stroke="#8a8a8a" stroke-width="3.9" stroke-dasharray="1.05 2.55"/>
<path d="M723.0,187.0 L724.0,187.3 L724.9,187.6 L725.9,187.9 L726.9,188.2 L727.8,188.5 L728.8,188.8 L729.7,189.0 L730.7,189.3 L731.7,189.6 L732.6,189.9 L733.6,190.2 L734.6,190.5 L735.5,190.8 L736.5,191.1 L737.4,191.4 L738.4,191.7 L739.4,192.0 L740.3,192.3 L741.3,192.6 L742.3,192.9 L743.2,193.1 L744.2,193.4 L745.1,193.7 L746.1,194.0 L747.1,194.3 L748.0,194.6 L749.0,194.9 L750.0,195.2 L750.9,195.5 L751.9,195.8 L752.8,196.1 L753.8,196.4 L754.8,196.7 L755.7,197.0 L756.7,197.3 L757.7,197.6 L758.6,197.9 L759.6,198.2 L760.5,198.5 L761.5,198.9 L762.5,199.2 L763.4,199.5 L764.4,199.8 L765.4,200.1 L766.3,200.4 L767.3,200.7 L768.2,201.0 L769.2,201.3 L770.2,201.6 L771.1,201.9 L772.1,202.2 L773.1,202.6 L774.0,202.9 L775.0,203.2 L775.9,203.5 L776.9,203.8 L777.9,204.1 L778.8,204.4 L779.8,204.8 L780.8,205.1 L781.7,205.4 L782.7,205.7 L783.6,206.0 L784.6,206.3 L785.6,206.7 L786.5,207.0 L787.5,207.3 L788.5,207.6 L789.4,207.9 L790.4,208.3 L791.3,208.6 L792.3,208.9 L793.3,209.2 L794.2,209.6 L795.2,209.9 L796.2,210.2 L797.1,210.6 L798.1,210.9 L799.0,211.2 L800.0,211.6 L801.0,211.9 L801.9,212.2 L802.9,212.6 L803.9,212.9 L804.8,213.2 L805.8,213.6 L806.7,213.9 L807.7,214.2 L808.7,214.6 L809.6,214.9 L810.6,215.3 L811.6,215.6 L812.5,215.9 L813.5,216.3 L814.4,216.6 L815.4,217.0 L816.4,217.3 L817.3,217.7 L818.3,218.0 L819.3,218.4 L820.2,218.7 L821.2,219.1 L822.1,219.4 L823.1,219.8 L824.1,220.1 L825.0,220.5 L826.0,220.9 L827.0,221.2 L827.9,221.6 L828.9,221.9 L829.8,222.3 L830.8,222.7 L831.8,223.0 L832.7,223.4 L833.7,223.8 L834.7,224.1 L835.6,224.5 L836.6,224.9 L837.5,225.3 L838.5,225.6 L839.5,226.0 L840.4,226.4 L841.4,226.8 L842.4,227.2 L843.3,227.5 L844.3,227.9 L845.2,228.3 L846.2,228.7 L847.2,229.1 L848.1,229.5 L849.1,229.9 L850.1,230.3 L851.0,230.7 L852.0,231.1 L852.9,231.5 L853.9,231.9 L854.9,232.3 L855.8,232.7 L856.8,233.1 L857.8,233.5 L858.7,233.9 L859.7,234.3 L860.6,234.7 L861.6,235.2 L862.6,235.6 L863.5,236.0 L864.5,236.4 L865.5,236.9 L866.4,237.3 L867.4,237.7 L868.3,238.2 L869.3,238.6 L870.3,239.0 L871.2,239.5 L872.2,239.9 L873.2,240.4 L874.1,240.8 L875.1,241.3 L876.0,241.7 L877.0,242.2 L878.0,242.6 L878.9,243.1 L879.9,243.6 L880.9,244.0 L881.8,244.5 L882.8,245.0 L883.7,245.5 L884.7,246.0 L885.7,246.4 L886.6,246.9 L887.6,247.4 L888.6,247.9 L889.5,248.4 L890.5,248.9 L891.4,249.4 L892.4,250.0 L893.4,250.5 L894.3,251.0 L895.3,251.5 L896.3,252.0 L897.2,252.6 L898.2,253.1 L899.1,253.7 L900.1,254.2 L901.1,254.8 L902.0,255.3 L903.0,255.9 L903.9,256.5 L904.9,257.0 L905.8,257.6 L906.8,258.2 L907.7,258.8 L908.6,259.4 L909.5,260.0 L910.4,260.6 L911.4,261.2 L912.3,261.9 L913.2,262.5 L914.1,263.1 L914.9,263.8 L915.8,264.4 L916.7,265.1 L917.6,265.8 L918.5,266.5 L919.4,267.2 L920.3,267.9 L921.2,268.6 L922.0,269.3 L922.9,270.0 L923.8,270.8 L924.7,271.5 L925.6,272.3 L926.5,273.0 L927.4,273.8 L928.2,274.6 L929.1,275.5 L930.0,276.3 L930.9,277.2 L931.9,278.0 L932.8,278.9 L933.7,279.8 L934.6,280.8 L935.5,281.8 L936.5,282.7 L937.4,283.8 L938.3,284.8 L939.3,285.9 L940.3,287.0 L941.2,288.1 L942.2,289.3 L943.1,290.5 L944.1,291.7 L945.1,293.0 L946.0,294.4 L947.0,295.7 L948.0,297.2 L948.9,298.7 L949.9,300.3 L950.8,301.9 L951.8,303.6 L952.8,305.4 L953.7,307.3 L954.7,309.3 L955.7,311.4 L956.6,313.6 L957.6,316.0 L958.5,318.6 L959.5,321.4 L960.5,324.4 L961.4,327.7 L962.4,331.3 L963.4,335.4" fill="none" stroke="#0000fa" stroke-width="2.1"/>
<path d="M722.5,163.2 L723.5,163.6 L724.4,164.1 L725.3,164.5 L726.2,165.0 L727.1,165.4 L728.1,165.9 L729.0,166.3 L729.9,166.8 L730.8,167.2 L731.8,167.7 L732.7,168.2 L733.6,168.6 L734.5,169.1 L735.5,169.5 L736.4,170.0 L737.3,170.4 L738.2,170.9 L739.2,171.4 L740.1,171.8 L741.0,172.3 L742.0,172.7 L742.9,173.2 L743.8,173.6 L744.7,174.1 L745.7,174.6 L746.6,175.0 L747.5,175.5 L748.4,176.0 L749.4,176.4 L750.3,176.9 L751.2,177.4 L752.1,177.8 L753.1,178.3 L754.0,178.8 L754.9,179.2 L755.8,179.7 L756.8,180.2 L757.7,180.7 L758.6,181.1 L759.5,181.6 L760.4,182.1 L761.4,182.6 L762.3,183.0 L763.2,183.5 L764.1,184.0 L765.0,184.5 L765.9,185.0 L766.9,185.4 L767.8,185.9 L768.7,186.4 L769.6,186.9 L770.5,187.4 L771.4,187.9 L772.3,188.4 L773.2,188.9 L774.1,189.4 L775.1,189.9 L776.0,190.4 L776.9,190.9 L777.8,191.4 L778.7,191.9 L779.6,192.4 L780.5,192.9 L781.4,193.4 L782.3,193.9 L783.2,194.4 L784.1,194.9 L784.9,195.4 L785.8,195.9 L786.7,196.4 L787.6,197.0 L788.5,197.5 L789.4,198.0 L790.3,198.5 L791.2,199.0 L792.0,199.6 L792.9,200.1 L793.8,200.7 L794.7,201.2 L795.5,201.7 L796.4,202.3 L797.3,202.8 L798.1,203.4 L799.0,204.0 L799.8,204.5 L800.7,205.1 L801.5,205.7 L802.4,206.3 L803.2,206.8 L804.1,207.4 L804.9,208.0 L805.8,208.6 L806.6,209.3 L807.4,209.9 L808.2,210.5 L809.1,211.1 L809.9,211.8 L810.7,212.4 L811.5,213.1 L812.3,213.7 L813.1,214.4 L813.9,215.0 L814.7,215.7 L815.5,216.4 L816.3,217.0 L817.1,217.7 L817.9,218.4 L818.7,219.1 L819.5,219.8 L820.2,220.5 L821.0,221.2 L821.8,221.8 L822.6,222.5 L823.4,223.2 L824.1,223.9 L824.9,224.6 L825.7,225.3 L826.4,226.0 L827.2,226.7 L827.9,227.4 L828.7,228.1 L829.5,228.8 L830.2,229.5 L831.0,230.2 L831.7,230.9 L832.4,231.7 L833.2,232.4 L833.9,233.1 L834.6,233.8 L835.4,234.5 L836.1,235.3 L836.8,236.0 L837.5,236.8 L838.2,237.5 L838.9,238.3 L839.5,239.0 L840.2,239.8 L840.9,240.6 L841.5,241.3 L842.2,242.1 L842.8,242.9 L843.5,243.7 L844.1,244.5 L844.7,245.3 L845.3,246.2 L845.9,247.0 L846.5,247.8 L847.1,248.7 L847.7,249.6 L848.2,250.4 L848.8,251.3 L849.3,252.2 L849.9,253.0 L850.4,253.9 L851.0,254.8 L851.5,255.7 L852.0,256.6 L852.5,257.5 L853.0,258.4 L853.5,259.3 L854.0,260.2 L854.5,261.2 L855.0,262.1 L855.5,263.0 L856.0,263.9 L856.5,264.9 L857.0,265.8 L857.4,266.7 L857.9,267.6 L858.4,268.6 L858.8,269.5 L859.3,270.4 L859.8,271.4 L860.2,272.3 L860.7,273.2 L861.1,274.2 L861.6,275.1 L862.0,276.0 L862.5,277.0 L862.9,277.9 L863.4,278.8 L863.8,279.8 L864.3,280.7 L864.7,281.6 L865.2,282.6 L865.6,283.5 L866.0,284.4 L866.5,285.4 L866.9,286.3 L867.4,287.2 L867.8,288.2 L868.2,289.1 L868.7,290.0 L869.1,291.0 L869.5,291.9 L870.0,292.8 L870.4,293.8 L870.8,294.7 L871.3,295.6 L871.7,296.6 L872.1,297.5 L872.5,298.4 L873.0,299.4 L873.4,300.3 L873.8,301.2 L874.3,302.2 L874.7,303.1 L875.1,304.0 L875.6,305.0 L876.0,305.9 L876.4,306.8 L876.9,307.8 L877.3,308.7 L877.7,309.6 L878.2,310.6 L878.6,311.5 L879.0,312.4 L879.5,313.4 L879.9,314.3 L880.3,315.2 L880.8,316.2 L881.2,317.1 L881.6,318.0 L882.1,319.0 L882.5,319.9 L883.0,320.8 L883.4,321.8 L883.9,322.7 L884.3,323.6 L884.7,324.6 L885.2,325.5 L885.6,326.5 L886.1,327.4 L886.6,328.3 L887.0,329.3 L887.5,330.2 L887.9,331.1 L888.4,332.1 L888.8,333.0" fill="none" stroke="#ff0000" stroke-width="2.0"/>
<path d="M722.5,149.8 L723.8,150.0 L725.1,150.2 L726.4,150.4 L727.7,150.7 L728.9,151.0 L730.2,151.3 L731.4,151.6 L732.7,152.0 L733.9,152.4 L735.1,152.8 L736.4,153.2 L737.6,153.6 L738.8,154.1 L740.1,154.6 L741.3,155.1 L742.5,155.6 L743.7,156.1 L744.9,156.6 L746.1,157.1 L747.3,157.7 L748.5,158.2 L749.7,158.8 L750.9,159.4 L752.1,159.9 L753.3,160.5 L754.4,161.1 L755.6,161.7 L756.8,162.3 L758.0,162.9 L759.2,163.4 L760.3,164.0 L761.5,164.6 L762.7,165.2 L763.8,165.8 L765.0,166.3 L766.2,166.9 L767.4,167.5 L768.5,168.0 L769.7,168.6 L770.9,169.2 L772.0,169.7 L773.2,170.3 L774.4,170.9 L775.5,171.4 L776.7,172.0 L777.9,172.5 L779.0,173.1 L780.2,173.7 L781.4,174.2 L782.5,174.8 L783.7,175.4 L784.9,175.9 L786.1,176.5 L787.2,177.0 L788.4,177.6 L789.6,178.2 L790.8,178.8 L791.9,179.3 L793.1,179.9 L794.3,180.5 L795.5,181.1 L796.7,181.6 L797.8,182.2 L799.0,182.8 L800.2,183.4 L801.4,184.0 L802.5,184.6 L803.7,185.2 L804.9,185.8 L806.1,186.4 L807.2,187.0 L808.4,187.6 L809.6,188.2 L810.7,188.8 L811.9,189.5 L813.0,190.1 L814.2,190.7 L815.3,191.4 L816.5,192.0 L817.6,192.7 L818.8,193.3 L819.9,194.0 L821.0,194.6 L822.1,195.3 L823.3,196.0 L824.4,196.7 L825.5,197.4 L826.6,198.0 L827.7,198.7 L828.8,199.5 L829.9,200.2 L831.0,200.9 L832.0,201.6 L833.1,202.4 L834.2,203.1 L835.2,203.8 L836.3,204.6 L837.3,205.4 L838.3,206.1 L839.4,206.9 L840.4,207.7 L841.4,208.5 L842.4,209.3 L843.5,210.1 L844.5,210.9 L845.5,211.7 L846.5,212.6 L847.5,213.4 L848.5,214.2 L849.5,215.1 L850.4,215.9 L851.4,216.8 L852.4,217.6 L853.4,218.5 L854.4,219.4 L855.4,220.2 L856.3,221.1 L857.3,222.0 L858.3,222.9 L859.3,223.7 L860.3,224.6 L861.3,225.4 L862.3,226.3 L863.3,227.1 L864.3,228.0 L865.4,228.8 L866.4,229.6 L867.4,230.4 L868.5,231.2 L869.5,231.9 L870.6,232.7 L871.6,233.5 L872.7,234.2 L873.8,235.0 L874.8,235.7 L875.9,236.5 L877.0,237.2 L878.1,238.0 L879.1,238.7 L880.2,239.4 L881.3,240.1 L882.4,240.8 L883.5,241.6 L884.6,242.3 L885.7,243.0 L886.8,243.7 L887.9,244.4 L889.0,245.1 L890.1,245.8 L891.2,246.5 L892.3,247.2 L893.4,247.9 L894.5,248.6 L895.6,249.3 L896.7,250.0 L897.7,250.8 L898.8,251.5 L899.9,252.2 L901.0,252.9 L902.1,253.6 L903.2,254.4 L904.3,255.1 L905.3,255.9 L906.4,256.6 L907.5,257.4 L908.5,258.1 L909.6,258.9 L910.6,259.7 L911.7,260.4 L912.7,261.2 L913.7,262.0 L914.8,262.8 L915.8,263.7 L916.8,264.5 L917.8,265.3 L918.8,266.1 L919.8,267.0 L920.8,267.8 L921.8,268.7 L922.8,269.6 L923.8,270.4 L924.7,271.3 L925.7,272.2 L926.7,273.1 L927.6,274.0 L928.5,274.9 L929.5,275.9 L930.4,276.8 L931.3,277.7 L932.2,278.7 L933.1,279.6 L934.0,280.6 L934.9,281.5 L935.8,282.5 L936.7,283.5 L937.5,284.5 L938.4,285.5 L939.2,286.5 L940.1,287.5 L940.9,288.5 L941.7,289.5 L942.5,290.5 L943.3,291.6 L944.1,292.6 L944.9,293.7 L945.7,294.7 L946.4,295.8 L947.2,296.8 L947.9,297.9 L948.6,299.0 L949.4,300.1 L950.1,301.2 L950.8,302.3 L951.5,303.4 L952.1,304.5 L952.8,305.6 L953.5,306.7 L954.1,307.9 L954.8,309.0 L955.4,310.2 L956.0,311.3 L956.6,312.5 L957.2,313.6 L957.8,314.8 L958.3,316.0 L958.9,317.2 L959.4,318.3 L960.0,319.5 L960.5,320.7 L961.0,321.9 L961.5,323.2 L962.0,324.4 L962.4,325.6 L962.9,326.8 L963.3,328.1 L963.8,329.3 L964.2,330.5 L964.6,331.8 L965.0,333.1" fill="none" stroke="#000" stroke-width="2.2"/>
</g>
<rect x="98.3" y="3.85" width="872.9000000000001" height="329.15" fill="none" stroke="#000" stroke-width="1.5"/><line x1="389.6" y1="3.85" x2="389.6" y2="333.0" stroke="#000" stroke-width="1.5"/><line x1="680.3" y1="3.85" x2="680.3" y2="333.0" stroke="#000" stroke-width="1.5"/><path d="M105.58,333.0v-3.1M105.58,3.85v3.1M112.86,333.0v-3.1M112.86,3.85v3.1M120.15,333.0v-3.1M120.15,3.85v3.1M127.43,333.0v-3.1M127.43,3.85v3.1M134.71,333.0v-3.1M134.71,3.85v3.1M142.00,333.0v-3.1M142.00,3.85v3.1M149.28,333.0v-3.1M149.28,3.85v3.1M156.56,333.0v-3.1M156.56,3.85v3.1M163.84,333.0v-3.1M163.84,3.85v3.1M171.12,333.0v-6.6M171.12,3.85v6.6M178.41,333.0v-3.1M178.41,3.85v3.1M185.69,333.0v-3.1M185.69,3.85v3.1M192.97,333.0v-3.1M192.97,3.85v3.1M200.25,333.0v-3.1M200.25,3.85v3.1M207.54,333.0v-3.1M207.54,3.85v3.1M214.82,333.0v-3.1M214.82,3.85v3.1M222.10,333.0v-3.1M222.10,3.85v3.1M229.38,333.0v-3.1M229.38,3.85v3.1M236.67,333.0v-3.1M236.67,3.85v3.1M243.95,333.0v-6.6M243.95,3.85v6.6M251.23,333.0v-3.1M251.23,3.85v3.1M258.51,333.0v-3.1M258.51,3.85v3.1M265.80,333.0v-3.1M265.80,3.85v3.1M273.08,333.0v-3.1M273.08,3.85v3.1M280.36,333.0v-3.1M280.36,3.85v3.1M287.64,333.0v-3.1M287.64,3.85v3.1M294.93,333.0v-3.1M294.93,3.85v3.1M302.21,333.0v-3.1M302.21,3.85v3.1M309.49,333.0v-3.1M309.49,3.85v3.1M316.77,333.0v-6.6M316.77,3.85v6.6M324.06,333.0v-3.1M324.06,3.85v3.1M331.34,333.0v-3.1M331.34,3.85v3.1M338.62,333.0v-3.1M338.62,3.85v3.1M345.91,333.0v-3.1M345.91,3.85v3.1M353.19,333.0v-3.1M353.19,3.85v3.1M360.47,333.0v-3.1M360.47,3.85v3.1M367.75,333.0v-3.1M367.75,3.85v3.1M375.04,333.0v-3.1M375.04,3.85v3.1M382.32,333.0v-3.1M382.32,3.85v3.1M98.3,312.73h3.0M389.6,312.73h-3.0M98.3,299.12h3.0M389.6,299.12h-3.0M98.3,289.46h3.0M389.6,289.46h-3.0M98.3,281.97h3.0M389.6,281.97h-3.0M98.3,275.85h3.0M389.6,275.85h-3.0M98.3,270.67h3.0M389.6,270.67h-3.0M98.3,266.19h3.0M389.6,266.19h-3.0M98.3,262.24h3.0M389.6,262.24h-3.0M98.3,258.70h5.8M389.6,258.70h-5.8M98.3,235.43h3.0M389.6,235.43h-3.0M98.3,221.82h3.0M389.6,221.82h-3.0M98.3,212.16h3.0M389.6,212.16h-3.0M98.3,204.67h3.0M389.6,204.67h-3.0M98.3,198.55h3.0M389.6,198.55h-3.0M98.3,193.37h3.0M389.6,193.37h-3.0M98.3,188.89h3.0M389.6,188.89h-3.0M98.3,184.94h3.0M389.6,184.94h-3.0M98.3,181.40h5.8M389.6,181.40h-5.8M98.3,158.13h3.0M389.6,158.13h-3.0M98.3,144.52h3.0M389.6,144.52h-3.0M98.3,134.86h3.0M389.6,134.86h-3.0M98.3,127.37h3.0M389.6,127.37h-3.0M98.3,121.25h3.0M389.6,121.25h-3.0M98.3,116.07h3.0M389.6,116.07h-3.0M98.3,111.59h3.0M389.6,111.59h-3.0M98.3,107.64h3.0M389.6,107.64h-3.0M98.3,104.10h5.8M389.6,104.10h-5.8M98.3,80.83h3.0M389.6,80.83h-3.0M98.3,67.22h3.0M389.6,67.22h-3.0M98.3,57.56h3.0M389.6,57.56h-3.0M98.3,50.07h3.0M389.6,50.07h-3.0M98.3,43.95h3.0M389.6,43.95h-3.0M98.3,38.77h3.0M389.6,38.77h-3.0M98.3,34.29h3.0M389.6,34.29h-3.0M98.3,30.34h3.0M389.6,30.34h-3.0M98.3,26.80h5.8M389.6,26.80h-5.8M396.87,333.0v-3.1M396.87,3.85v3.1M404.13,333.0v-3.1M404.13,3.85v3.1M411.40,333.0v-3.1M411.40,3.85v3.1M418.67,333.0v-3.1M418.67,3.85v3.1M425.94,333.0v-3.1M425.94,3.85v3.1M433.21,333.0v-3.1M433.21,3.85v3.1M440.47,333.0v-3.1M440.47,3.85v3.1M447.74,333.0v-3.1M447.74,3.85v3.1M455.01,333.0v-3.1M455.01,3.85v3.1M462.27,333.0v-6.6M462.27,3.85v6.6M469.54,333.0v-3.1M469.54,3.85v3.1M476.81,333.0v-3.1M476.81,3.85v3.1M484.08,333.0v-3.1M484.08,3.85v3.1M491.35,333.0v-3.1M491.35,3.85v3.1M498.61,333.0v-3.1M498.61,3.85v3.1M505.88,333.0v-3.1M505.88,3.85v3.1M513.15,333.0v-3.1M513.15,3.85v3.1M520.41,333.0v-3.1M520.41,3.85v3.1M527.68,333.0v-3.1M527.68,3.85v3.1M534.95,333.0v-6.6M534.95,3.85v6.6M542.22,333.0v-3.1M542.22,3.85v3.1M549.49,333.0v-3.1M549.49,3.85v3.1M556.75,333.0v-3.1M556.75,3.85v3.1M564.02,333.0v-3.1M564.02,3.85v3.1M571.29,333.0v-3.1M571.29,3.85v3.1M578.55,333.0v-3.1M578.55,3.85v3.1M585.82,333.0v-3.1M585.82,3.85v3.1M593.09,333.0v-3.1M593.09,3.85v3.1M600.36,333.0v-3.1M600.36,3.85v3.1M607.62,333.0v-6.6M607.62,3.85v6.6M614.89,333.0v-3.1M614.89,3.85v3.1M622.16,333.0v-3.1M622.16,3.85v3.1M629.43,333.0v-3.1M629.43,3.85v3.1M636.69,333.0v-3.1M636.69,3.85v3.1M643.96,333.0v-3.1M643.96,3.85v3.1M651.23,333.0v-3.1M651.23,3.85v3.1M658.50,333.0v-3.1M658.50,3.85v3.1M665.76,333.0v-3.1M665.76,3.85v3.1M673.03,333.0v-3.1M673.03,3.85v3.1M389.6,312.73h3.0M680.3,312.73h-3.0M389.6,299.12h3.0M680.3,299.12h-3.0M389.6,289.46h3.0M680.3,289.46h-3.0M389.6,281.97h3.0M680.3,281.97h-3.0M389.6,275.85h3.0M680.3,275.85h-3.0M389.6,270.67h3.0M680.3,270.67h-3.0M389.6,266.19h3.0M680.3,266.19h-3.0M389.6,262.24h3.0M680.3,262.24h-3.0M389.6,258.70h5.8M680.3,258.70h-5.8M389.6,235.43h3.0M680.3,235.43h-3.0M389.6,221.82h3.0M680.3,221.82h-3.0M389.6,212.16h3.0M680.3,212.16h-3.0M389.6,204.67h3.0M680.3,204.67h-3.0M389.6,198.55h3.0M680.3,198.55h-3.0M389.6,193.37h3.0M680.3,193.37h-3.0M389.6,188.89h3.0M680.3,188.89h-3.0M389.6,184.94h3.0M680.3,184.94h-3.0M389.6,181.40h5.8M680.3,181.40h-5.8M389.6,158.13h3.0M680.3,158.13h-3.0M389.6,144.52h3.0M680.3,144.52h-3.0M389.6,134.86h3.0M680.3,134.86h-3.0M389.6,127.37h3.0M680.3,127.37h-3.0M389.6,121.25h3.0M680.3,121.25h-3.0M389.6,116.07h3.0M680.3,116.07h-3.0M389.6,111.59h3.0M680.3,111.59h-3.0M389.6,107.64h3.0M680.3,107.64h-3.0M389.6,104.10h5.8M680.3,104.10h-5.8M389.6,80.83h3.0M680.3,80.83h-3.0M389.6,67.22h3.0M680.3,67.22h-3.0M389.6,57.56h3.0M680.3,57.56h-3.0M389.6,50.07h3.0M680.3,50.07h-3.0M389.6,43.95h3.0M680.3,43.95h-3.0M389.6,38.77h3.0M680.3,38.77h-3.0M389.6,34.29h3.0M680.3,34.29h-3.0M389.6,30.34h3.0M680.3,30.34h-3.0M389.6,26.80h5.8M680.3,26.80h-5.8M687.57,333.0v-3.1M687.57,3.85v3.1M694.84,333.0v-3.1M694.84,3.85v3.1M702.12,333.0v-3.1M702.12,3.85v3.1M709.39,333.0v-3.1M709.39,3.85v3.1M716.66,333.0v-3.1M716.66,3.85v3.1M723.93,333.0v-3.1M723.93,3.85v3.1M731.21,333.0v-3.1M731.21,3.85v3.1M738.48,333.0v-3.1M738.48,3.85v3.1M745.75,333.0v-3.1M745.75,3.85v3.1M753.02,333.0v-6.6M753.02,3.85v6.6M760.30,333.0v-3.1M760.30,3.85v3.1M767.57,333.0v-3.1M767.57,3.85v3.1M774.84,333.0v-3.1M774.84,3.85v3.1M782.12,333.0v-3.1M782.12,3.85v3.1M789.39,333.0v-3.1M789.39,3.85v3.1M796.66,333.0v-3.1M796.66,3.85v3.1M803.93,333.0v-3.1M803.93,3.85v3.1M811.20,333.0v-3.1M811.20,3.85v3.1M818.48,333.0v-3.1M818.48,3.85v3.1M825.75,333.0v-6.6M825.75,3.85v6.6M833.02,333.0v-3.1M833.02,3.85v3.1M840.30,333.0v-3.1M840.30,3.85v3.1M847.57,333.0v-3.1M847.57,3.85v3.1M854.84,333.0v-3.1M854.84,3.85v3.1M862.11,333.0v-3.1M862.11,3.85v3.1M869.38,333.0v-3.1M869.38,3.85v3.1M876.66,333.0v-3.1M876.66,3.85v3.1M883.93,333.0v-3.1M883.93,3.85v3.1M891.20,333.0v-3.1M891.20,3.85v3.1M898.48,333.0v-6.6M898.48,3.85v6.6M905.75,333.0v-3.1M905.75,3.85v3.1M913.02,333.0v-3.1M913.02,3.85v3.1M920.29,333.0v-3.1M920.29,3.85v3.1M927.57,333.0v-3.1M927.57,3.85v3.1M934.84,333.0v-3.1M934.84,3.85v3.1M942.11,333.0v-3.1M942.11,3.85v3.1M949.38,333.0v-3.1M949.38,3.85v3.1M956.66,333.0v-3.1M956.66,3.85v3.1M963.93,333.0v-3.1M963.93,3.85v3.1M680.3,312.73h3.0M971.2,312.73h-3.0M680.3,299.12h3.0M971.2,299.12h-3.0M680.3,289.46h3.0M971.2,289.46h-3.0M680.3,281.97h3.0M971.2,281.97h-3.0M680.3,275.85h3.0M971.2,275.85h-3.0M680.3,270.67h3.0M971.2,270.67h-3.0M680.3,266.19h3.0M971.2,266.19h-3.0M680.3,262.24h3.0M971.2,262.24h-3.0M680.3,258.70h5.8M971.2,258.70h-5.8M680.3,235.43h3.0M971.2,235.43h-3.0M680.3,221.82h3.0M971.2,221.82h-3.0M680.3,212.16h3.0M971.2,212.16h-3.0M680.3,204.67h3.0M971.2,204.67h-3.0M680.3,198.55h3.0M971.2,198.55h-3.0M680.3,193.37h3.0M971.2,193.37h-3.0M680.3,188.89h3.0M971.2,188.89h-3.0M680.3,184.94h3.0M971.2,184.94h-3.0M680.3,181.40h5.8M971.2,181.40h-5.8M680.3,158.13h3.0M971.2,158.13h-3.0M680.3,144.52h3.0M971.2,144.52h-3.0M680.3,134.86h3.0M971.2,134.86h-3.0M680.3,127.37h3.0M971.2,127.37h-3.0M680.3,121.25h3.0M971.2,121.25h-3.0M680.3,116.07h3.0M971.2,116.07h-3.0M680.3,111.59h3.0M971.2,111.59h-3.0M680.3,107.64h3.0M971.2,107.64h-3.0M680.3,104.10h5.8M971.2,104.10h-5.8M680.3,80.83h3.0M971.2,80.83h-3.0M680.3,67.22h3.0M971.2,67.22h-3.0M680.3,57.56h3.0M971.2,57.56h-3.0M680.3,50.07h3.0M971.2,50.07h-3.0M680.3,43.95h3.0M971.2,43.95h-3.0M680.3,38.77h3.0M971.2,38.77h-3.0M680.3,34.29h3.0M971.2,34.29h-3.0M680.3,30.34h3.0M971.2,30.34h-3.0M680.3,26.80h5.8M971.2,26.80h-5.8" stroke="#000" stroke-width="1.4" fill="none"/>
<g fill="#000">
<text transform="translate(122.81,27.60) scale(1.188,1.000)" font-family="'Liberation Serif', serif" font-size="18px">−</text>
<text transform="translate(136.92,27.60) scale(1.119,1.000)" font-family="'Liberation Serif', serif" font-size="18px" letter-spacing="1.2">1<tspan letter-spacing="0.2">2.</tspan>7</text>
<text transform="translate(182.65,27.60) scale(1.248,1.000)" font-family="'Liberation Serif', serif" font-size="18px">&lt;</text>
<text transform="translate(204.84,27.60) scale(1.050,1.000)" font-family="'Liberation Serif', serif" font-size="18px" letter-spacing="0.8">log</text>
<text transform="translate(239.83,27.60) scale(1.026,1.000)" font-family="'Liberation Serif', serif" font-size="18px" letter-spacing="0.8">sSFR</text>
<text transform="translate(291.76,27.60) scale(1.236,1.000)" font-family="'Liberation Serif', serif" font-size="18px">&lt;</text>
<text transform="translate(313.22,27.60) scale(1.285,1.000)" font-family="'Liberation Serif', serif" font-size="18px">−</text>
<text transform="translate(327.72,27.60) scale(1.123,1.000)" font-family="'Liberation Serif', serif" font-size="18px" letter-spacing="1.2">1<tspan letter-spacing="0.2">0.</tspan>7</text>
<text transform="translate(413.66,27.60) scale(1.236,1.000)" font-family="'Liberation Serif', serif" font-size="18px">−</text>
<text transform="translate(427.82,27.60) scale(1.119,1.000)" font-family="'Liberation Serif', serif" font-size="18px" letter-spacing="1.2">1<tspan letter-spacing="0.2">0.</tspan>7</text>
<text transform="translate(473.54,27.60) scale(1.261,1.000)" font-family="'Liberation Serif', serif" font-size="18px">&lt;</text>
<text transform="translate(495.74,27.60) scale(1.054,1.000)" font-family="'Liberation Serif', serif" font-size="18px" letter-spacing="0.8">log</text>
<text transform="translate(530.83,27.60) scale(1.026,1.000)" font-family="'Liberation Serif', serif" font-size="18px" letter-spacing="0.8">sSFR</text>
<text transform="translate(582.76,27.60) scale(1.236,1.000)" font-family="'Liberation Serif', serif" font-size="18px">&lt;</text>
<text transform="translate(604.22,27.60) scale(1.285,1.000)" font-family="'Liberation Serif', serif" font-size="18px">−</text>
<text transform="translate(618.73,27.60) scale(1.116,1.000)" font-family="'Liberation Serif', serif" font-size="18px" letter-spacing="1.2">1<tspan letter-spacing="0.2">0.</tspan>3</text>
<text transform="translate(710.10,27.60) scale(1.200,1.000)" font-family="'Liberation Serif', serif" font-size="18px">−</text>
<text transform="translate(724.13,27.60) scale(1.113,1.000)" font-family="'Liberation Serif', serif" font-size="18px" letter-spacing="1.2">1<tspan letter-spacing="0.2">0.</tspan>3</text>
<text transform="translate(770.19,27.60) scale(1.212,1.000)" font-family="'Liberation Serif', serif" font-size="18px">&lt;</text>
<text transform="translate(792.24,27.60) scale(1.050,1.000)" font-family="'Liberation Serif', serif" font-size="18px" letter-spacing="0.8">log</text>
<text transform="translate(827.23,27.60) scale(1.023,1.000)" font-family="'Liberation Serif', serif" font-size="18px" letter-spacing="0.8">sSFR</text>
<text transform="translate(878.98,27.60) scale(1.224,1.000)" font-family="'Liberation Serif', serif" font-size="18px">&lt;</text>
<text transform="translate(901.00,27.60) scale(1.200,1.000)" font-family="'Liberation Serif', serif" font-size="18px">−</text>
<text transform="translate(915.14,27.60) scale(1.111,1.000)" font-family="'Liberation Serif', serif" font-size="18px" letter-spacing="1.2"><tspan letter-spacing="0.2">9.</tspan>1</text>
<text transform="translate(173.74,379.10) scale(1.054,1.000)" font-family="'Liberation Serif', serif" font-size="18px" letter-spacing="0.8">log</text>
<text transform="translate(209.70,379.10) scale(1.200,1.000)" font-family="'Liberation Serif', serif" font-size="18px" font-style="italic">L</text>
<text transform="translate(219.64,383.40) scale(1.037,1.080)" font-family="'Liberation Sans', sans-serif" font-size="11px" stroke="#000" stroke-width="0.45">X</text>
<text transform="translate(235.39,380.65) scale(1.125,1.260)" font-family="'Liberation Serif', serif" font-size="18px">[</text>
<text transform="translate(242.72,379.10) scale(1.178,1.000)" font-family="'Liberation Serif', serif" font-size="18px" letter-spacing="0.8">erg</text>
<text transform="translate(281.05,379.10) scale(1.400,1.000)" font-family="'Liberation Serif', serif" font-size="18px" letter-spacing="0.8">s</text>
<text transform="translate(291.93,372.00) scale(1.148,1.000)" font-family="'Liberation Serif', serif" font-size="12px" stroke="#000" stroke-width="0.3">−</text>
<text transform="translate(300.42,373.00) scale(0.776,0.962)" font-family="'Liberation Serif', serif" font-size="12px" stroke="#000" stroke-width="0.3">1</text>
<text transform="translate(306.46,380.65) scale(1.125,1.260)" font-family="'Liberation Serif', serif" font-size="18px">]</text>
<text transform="translate(464.84,379.10) scale(1.054,1.000)" font-family="'Liberation Serif', serif" font-size="18px" letter-spacing="0.8">log</text>
<text transform="translate(500.80,379.10) scale(1.200,1.000)" font-family="'Liberation Serif', serif" font-size="18px" font-style="italic">L</text>
<text transform="translate(510.74,383.40) scale(1.037,1.080)" font-family="'Liberation Sans', sans-serif" font-size="11px" stroke="#000" stroke-width="0.45">X</text>
<text transform="translate(526.49,380.65) scale(1.125,1.260)" font-family="'Liberation Serif', serif" font-size="18px">[</text>
<text transform="translate(533.82,379.10) scale(1.178,1.000)" font-family="'Liberation Serif', serif" font-size="18px" letter-spacing="0.8">erg</text>
<text transform="translate(572.15,379.10) scale(1.400,1.000)" font-family="'Liberation Serif', serif" font-size="18px" letter-spacing="0.8">s</text>
<text transform="translate(583.03,372.00) scale(1.148,1.000)" font-family="'Liberation Serif', serif" font-size="12px" stroke="#000" stroke-width="0.3">−</text>
<text transform="translate(591.52,373.00) scale(0.776,0.962)" font-family="'Liberation Serif', serif" font-size="12px" stroke="#000" stroke-width="0.3">1</text>
<text transform="translate(597.56,380.65) scale(1.125,1.260)" font-family="'Liberation Serif', serif" font-size="18px">]</text>
<text transform="translate(755.74,379.10) scale(1.054,1.000)" font-family="'Liberation Serif', serif" font-size="18px" letter-spacing="0.8">log</text>
<text transform="translate(791.70,379.10) scale(1.200,1.000)" font-family="'Liberation Serif', serif" font-size="18px" font-style="italic">L</text>
<text transform="translate(801.64,383.40) scale(1.037,1.080)" font-family="'Liberation Sans', sans-serif" font-size="11px" stroke="#000" stroke-width="0.45">X</text>
<text transform="translate(817.39,380.65) scale(1.125,1.260)" font-family="'Liberation Serif', serif" font-size="18px">[</text>
<text transform="translate(824.72,379.10) scale(1.178,1.000)" font-family="'Liberation Serif', serif" font-size="18px" letter-spacing="0.8">erg</text>
<text transform="translate(863.05,379.10) scale(1.400,1.000)" font-family="'Liberation Serif', serif" font-size="18px" letter-spacing="0.8">s</text>
<text transform="translate(873.93,372.00) scale(1.148,1.000)" font-family="'Liberation Serif', serif" font-size="12px" stroke="#000" stroke-width="0.3">−</text>
<text transform="translate(882.42,373.00) scale(0.776,0.962)" font-family="'Liberation Serif', serif" font-size="12px" stroke="#000" stroke-width="0.3">1</text>
<text transform="translate(888.46,380.65) scale(1.125,1.260)" font-family="'Liberation Serif', serif" font-size="18px">]</text>
<text transform="translate(87.08,357.65) scale(1.089,0.988)" font-family="'Liberation Serif', serif" font-size="18px" letter-spacing="1.2">36</text>
<text transform="translate(159.83,357.65) scale(1.089,0.988)" font-family="'Liberation Serif', serif" font-size="18px" letter-spacing="1.2">37</text>
<text transform="translate(232.57,357.65) scale(1.104,0.988)" font-family="'Liberation Serif', serif" font-size="18px" letter-spacing="1.2">38</text>
<text transform="translate(305.32,357.65) scale(1.104,0.988)" font-family="'Liberation Serif', serif" font-size="18px" letter-spacing="1.2">39</text>
<text transform="translate(378.48,357.65) scale(1.089,0.988)" font-family="'Liberation Serif', serif" font-size="18px" letter-spacing="1.2">36</text>
<text transform="translate(451.23,357.65) scale(1.089,0.988)" font-family="'Liberation Serif', serif" font-size="18px" letter-spacing="1.2">37</text>
<text transform="translate(523.97,357.65) scale(1.104,0.988)" font-family="'Liberation Serif', serif" font-size="18px" letter-spacing="1.2">38</text>
<text transform="translate(596.72,357.65) scale(1.104,0.988)" font-family="'Liberation Serif', serif" font-size="18px" letter-spacing="1.2">39</text>
<text transform="translate(669.08,357.65) scale(1.089,0.988)" font-family="'Liberation Serif', serif" font-size="18px" letter-spacing="1.2">36</text>
<text transform="translate(741.83,357.65) scale(1.089,0.988)" font-family="'Liberation Serif', serif" font-size="18px" letter-spacing="1.2">37</text>
<text transform="translate(814.57,357.65) scale(1.104,0.988)" font-family="'Liberation Serif', serif" font-size="18px" letter-spacing="1.2">38</text>
<text transform="translate(887.32,357.65) scale(1.104,0.988)" font-family="'Liberation Serif', serif" font-size="18px" letter-spacing="1.2">39</text>
<text transform="translate(49.60,33.76) scale(1.067,0.980)" font-family="'Liberation Serif', serif" font-size="18px" letter-spacing="1.2">1000</text>
<text transform="translate(61.01,111.06) scale(1.057,0.980)" font-family="'Liberation Serif', serif" font-size="18px" letter-spacing="1.2">100</text>
<text transform="translate(72.05,188.36) scale(1.035,0.980)" font-family="'Liberation Serif', serif" font-size="18px" letter-spacing="1.2">10</text>
<text transform="translate(84.23,265.90) scale(0.646,1.000)" font-family="'Liberation Serif', serif" font-size="18px" letter-spacing="1.2">1</text>
<g transform="rotate(-90)">
<text transform="translate(-282.30,35.60) scale(1.051,1.000)" font-family="'Liberation Serif', serif" font-size="18px" font-style="italic">N</text>
<text transform="translate(-268.08,34.36) scale(1.305,1.077)" font-family="'Liberation Serif', serif" font-size="18px">(</text>
<text transform="translate(-260.29,35.60) scale(1.188,1.000)" font-family="'Liberation Serif', serif" font-size="18px">&gt;</text>
<text transform="translate(-247.21,35.60) scale(1.157,1.000)" font-family="'Liberation Serif', serif" font-size="18px" font-style="italic">L</text>
<text transform="translate(-237.16,39.40) scale(1.022,1.080)" font-family="'Liberation Sans', sans-serif" font-size="11px" stroke="#000" stroke-width="0.45">X</text>
<text transform="translate(-230.78,34.36) scale(1.368,1.077)" font-family="'Liberation Serif', serif" font-size="18px">)</text>
<text transform="translate(-209.75,35.60) scale(0.921,1.000)" font-family="'Liberation Serif', serif" font-size="18px" letter-spacing="0.8">SFR</text>
<text transform="translate(-169.35,35.33) scale(1.400,1.267)" font-family="'Liberation Serif', serif" font-size="18px">[</text>
<text transform="translate(-161.53,34.36) scale(1.368,1.077)" font-family="'Liberation Serif', serif" font-size="18px">(</text>
<text transform="translate(-152.85,35.60) scale(0.981,1.000)" font-family="'Liberation Serif', serif" font-size="18px" font-style="italic">M</text>
<text transform="translate(-121.11,35.60) scale(1.232,1.000)" font-family="'Liberation Serif', serif" font-size="18px" letter-spacing="0.8">yr</text>
<text transform="translate(-100.72,25.40) scale(1.235,1.000)" font-family="'Liberation Serif', serif" font-size="12px" stroke="#000" stroke-width="0.3">−</text>
<text transform="translate(-91.76,26.90) scale(0.659,0.950)" font-family="'Liberation Serif', serif" font-size="12px" stroke="#000" stroke-width="0.3">1</text>
<text transform="translate(-86.77,34.36) scale(1.537,1.077)" font-family="'Liberation Serif', serif" font-size="18px">)</text>
<text transform="translate(-77.77,25.40) scale(1.130,1.000)" font-family="'Liberation Serif', serif" font-size="12px" stroke="#000" stroke-width="0.3">−</text>
<text transform="translate(-69.41,26.90) scale(0.706,0.950)" font-family="'Liberation Serif', serif" font-size="12px" stroke="#000" stroke-width="0.3">1</text>
<text transform="translate(-63.99,35.33) scale(1.325,1.267)" font-family="'Liberation Serif', serif" font-size="18px">]</text>
</g>
<circle cx="34.8" cy="133.6" r="3.25" fill="none" stroke="#000" stroke-width="1"/><circle cx="34.8" cy="133.6" r="0.9" fill="#000"/>
<line x1="38.6" y1="221.8" x2="20.9" y2="209.7" stroke="#000" stroke-width="1.15"/>
</g>
</svg>
</body></html>
